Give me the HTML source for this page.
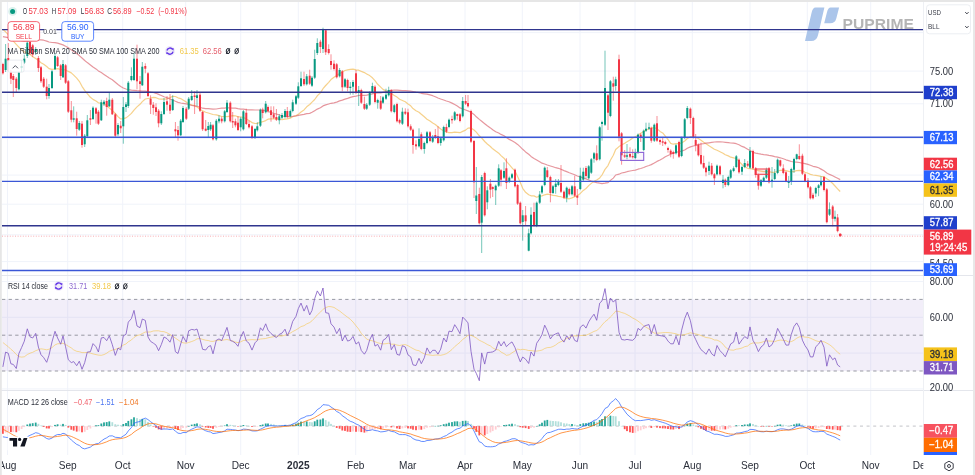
<!DOCTYPE html><html><head><meta charset="utf-8"><style>
html,body{margin:0;padding:0;background:#fff;}
body{width:975px;height:475px;overflow:hidden;position:relative;font-family:"Liberation Sans",sans-serif;}
svg{position:absolute;left:0;top:0;filter:blur(0.3px);}
</style></head><body>
<svg width="975" height="475" viewBox="0 0 975 475" font-family="Liberation Sans, sans-serif">
<rect x="0" y="0" width="975" height="475" fill="#ffffff"/>
<line x1="7.5" y1="2" x2="7.5" y2="455" stroke="#f0f3fa" stroke-width="1"/>
<line x1="67.7" y1="2" x2="67.7" y2="455" stroke="#f0f3fa" stroke-width="1"/>
<line x1="122.7" y1="2" x2="122.7" y2="455" stroke="#f0f3fa" stroke-width="1"/>
<line x1="185.7" y1="2" x2="185.7" y2="455" stroke="#f0f3fa" stroke-width="1"/>
<line x1="240.7" y1="2" x2="240.7" y2="455" stroke="#f0f3fa" stroke-width="1"/>
<line x1="298.3" y1="2" x2="298.3" y2="455" stroke="#f0f3fa" stroke-width="1"/>
<line x1="355.7" y1="2" x2="355.7" y2="455" stroke="#f0f3fa" stroke-width="1"/>
<line x1="407.7" y1="2" x2="407.7" y2="455" stroke="#f0f3fa" stroke-width="1"/>
<line x1="465.0" y1="2" x2="465.0" y2="455" stroke="#f0f3fa" stroke-width="1"/>
<line x1="522.3" y1="2" x2="522.3" y2="455" stroke="#f0f3fa" stroke-width="1"/>
<line x1="580.0" y1="2" x2="580.0" y2="455" stroke="#f0f3fa" stroke-width="1"/>
<line x1="635.0" y1="2" x2="635.0" y2="455" stroke="#f0f3fa" stroke-width="1"/>
<line x1="692.3" y1="2" x2="692.3" y2="455" stroke="#f0f3fa" stroke-width="1"/>
<line x1="750.0" y1="2" x2="750.0" y2="455" stroke="#f0f3fa" stroke-width="1"/>
<line x1="807.3" y1="2" x2="807.3" y2="455" stroke="#f0f3fa" stroke-width="1"/>
<line x1="870.7" y1="2" x2="870.7" y2="455" stroke="#f0f3fa" stroke-width="1"/>
<line x1="2" y1="32.6" x2="923" y2="32.6" stroke="#f0f3fa" stroke-width="1"/>
<line x1="2" y1="71.1" x2="923" y2="71.1" stroke="#f0f3fa" stroke-width="1"/>
<line x1="2" y1="103.8" x2="923" y2="103.8" stroke="#f0f3fa" stroke-width="1"/>
<line x1="2" y1="138.4" x2="923" y2="138.4" stroke="#f0f3fa" stroke-width="1"/>
<line x1="2" y1="175.1" x2="923" y2="175.1" stroke="#f0f3fa" stroke-width="1"/>
<line x1="2" y1="204.2" x2="923" y2="204.2" stroke="#f0f3fa" stroke-width="1"/>
<line x1="2" y1="234.8" x2="923" y2="234.8" stroke="#f0f3fa" stroke-width="1"/>
<line x1="2" y1="261.6" x2="923" y2="261.6" stroke="#f0f3fa" stroke-width="1"/>
<line x1="2" y1="281.5" x2="923" y2="281.5" stroke="#f0f3fa" stroke-width="1"/>
<line x1="2" y1="317.3" x2="923" y2="317.3" stroke="#f0f3fa" stroke-width="1"/>
<line x1="2" y1="353.1" x2="923" y2="353.1" stroke="#f0f3fa" stroke-width="1"/>
<line x1="2" y1="388.9" x2="923" y2="388.9" stroke="#f0f3fa" stroke-width="1"/>
<rect x="2" y="299.4" width="921" height="71.6" fill="#7e57c2" fill-opacity="0.1"/>
<line x1="2" y1="299.4" x2="923" y2="299.4" stroke="#787b86" stroke-width="1" stroke-dasharray="3.3 3.3" stroke-opacity="0.75"/>
<line x1="2" y1="335.2" x2="923" y2="335.2" stroke="#787b86" stroke-width="1" stroke-dasharray="3.3 3.3" stroke-opacity="0.75"/>
<line x1="2" y1="371.0" x2="923" y2="371.0" stroke="#787b86" stroke-width="1" stroke-dasharray="3.3 3.3" stroke-opacity="0.75"/>
<line x1="2" y1="426.1" x2="923" y2="426.1" stroke="#787b86" stroke-width="1" stroke-dasharray="3 3.6" stroke-opacity="0.45"/>
<line x1="0" y1="275.5" x2="975" y2="275.5" stroke="#e4e6ec" stroke-width="1"/>
<line x1="0" y1="390.5" x2="975" y2="390.5" stroke="#e4e6ec" stroke-width="1"/>
<line x1="923.5" y1="0" x2="923.5" y2="455" stroke="#eef0f4" stroke-width="1"/>
<polyline points="2.9,29.5 5.6,31.8 8.3,34.6 10.9,38.0 13.3,41.1 16.3,44.4 18.9,47.1 21.6,49.8 24.3,51.9 27.3,53.1 30.0,54.4 32.7,56.7 35.7,58.6 38.4,60.4 41.0,62.8 43.7,64.3 46.7,66.5 49.0,68.6 52.0,69.4 55.0,69.0 57.6,68.6 60.7,69.5 63.0,69.7 65.6,69.9 68.3,71.4 71.3,72.9 73.7,75.1 76.7,78.1 79.3,81.3 82.0,86.3 84.7,90.4 87.3,93.7 90.4,97.3 93.0,99.4 96.0,101.0 98.4,102.8 101.3,103.1 104.0,103.8 106.7,105.7 109.3,108.0 112.3,110.5 115.3,113.5 118.0,116.6 120.7,119.0 123.3,118.7 126.0,117.9 128.3,116.1 131.4,113.4 134.0,110.1 137.0,106.9 140.0,104.3 142.3,101.6 145.3,99.0 148.0,98.5 150.6,98.0 153.3,97.3 156.0,97.7 158.6,98.8 161.3,99.1 164.0,99.2 167.0,98.8 170.0,97.6 172.7,96.3 175.4,96.5 178.0,97.8 180.7,98.6 183.0,99.9 186.3,102.0 188.7,104.1 191.7,104.9 194.6,105.6 197.0,107.0 200.0,109.2 202.6,110.9 205.7,112.2 208.3,113.0 210.6,113.7 213.0,114.5 216.3,114.8 219.0,115.6 221.7,116.5 224.7,116.5 227.0,116.7 230.3,116.2 232.7,115.6 235.4,115.8 238.0,116.9 240.7,116.9 243.4,117.5 246.3,118.9 249.0,120.5 252.0,122.6 255.0,123.5 257.3,123.4 260.4,122.3 262.7,121.7 265.7,120.6 268.0,119.2 271.0,118.9 273.7,118.9 276.4,118.8 279.3,119.0 282.0,119.7 285.0,119.2 287.3,118.9 290.3,118.2 292.7,116.8 296.0,115.6 298.3,114.4 301.0,112.0 304.0,109.9 306.7,106.8 309.7,104.5 312.0,102.1 314.7,99.5 317.3,95.8 320.4,92.9 323.0,88.7 325.7,85.5 328.7,82.3 331.0,79.6 334.0,77.3 336.7,75.5 339.6,73.5 342.3,72.1 345.0,70.5 347.6,69.9 350.3,69.4 353.0,69.2 356.0,69.9 358.7,70.2 361.3,71.4 364.4,72.6 366.7,73.9 369.7,75.6 372.4,77.8 375.0,80.6 377.7,84.3 380.7,87.1 383.0,89.4 386.0,90.9 388.7,92.0 391.3,93.6 394.3,95.4 397.0,97.1 399.6,99.3 402.4,100.5 405.3,101.8 408.0,104.0 410.7,105.8 413.0,108.6 416.0,110.7 419.0,112.2 421.3,114.3 424.3,116.8 427.0,119.2 430.0,121.1 432.7,123.0 435.3,124.5 438.0,126.8 440.7,129.0 443.7,130.9 446.4,132.0 449.0,132.7 452.0,132.7 454.7,132.1 457.3,132.3 460.0,132.7 462.7,131.4 465.6,130.1 468.0,128.1 471.0,127.9 474.0,130.0 476.3,132.1 479.3,135.8 481.7,138.0 484.7,141.5 487.3,144.0 490.4,146.5 492.7,148.8 495.7,151.1 498.7,153.2 501.0,155.6 504.0,158.2 506.4,161.4 509.3,164.7 512.0,167.8 515.0,171.1 517.6,176.5 520.3,182.6 522.7,188.3 525.6,192.3 528.7,194.8 531.0,195.8 534.0,195.9 536.7,197.2 539.7,196.1 542.0,195.9 544.7,194.8 547.3,194.2 550.4,194.6 553.0,195.5 555.7,195.7 558.4,196.3 561.0,196.7 564.0,197.7 566.7,198.4 569.3,198.8 572.0,197.9 574.7,196.6 577.3,195.7 580.3,193.4 583.3,190.4 586.0,188.5 588.7,185.6 591.3,183.4 594.0,181.3 596.7,180.0 599.7,177.9 602.0,175.0 605.0,169.4 608.0,165.6 610.4,160.2 613.3,155.3 615.7,149.5 619.0,146.6 621.6,145.0 624.7,143.2 627.0,141.7 630.0,139.9 632.7,138.0 635.3,136.9 638.0,135.1 640.7,133.3 643.7,131.6 646.0,130.1 649.0,128.8 651.3,127.8 654.3,127.7 657.0,128.6 660.0,131.4 662.7,132.9 665.3,136.2 668.0,139.5 670.7,143.4 673.3,144.2 676.0,143.7 679.0,143.7 681.6,142.9 684.7,141.0 687.3,138.5 690.4,136.7 693.3,136.9 695.7,137.2 698.4,138.5 701.0,140.2 703.7,142.2 706.0,143.7 709.0,145.8 711.7,147.4 714.4,149.2 717.0,150.3 720.0,151.8 723.0,153.3 725.3,154.8 728.3,155.9 730.7,157.2 733.6,157.8 736.3,158.7 739.0,161.4 742.0,164.5 744.7,166.8 747.7,168.3 750.0,168.6 753.0,169.2 755.7,169.8 758.4,170.7 761.0,171.1 763.7,171.7 766.4,171.5 769.0,171.7 772.0,172.4 774.7,172.3 777.6,171.3 780.3,170.3 783.3,170.1 786.0,170.7 788.7,171.3 791.3,171.9 794.0,171.3 796.7,170.6 799.3,170.4 802.4,170.8 805.0,172.3 808.0,173.3 810.4,174.4 813.0,175.0 815.8,175.4 818.6,175.8 821.0,176.4 824.0,176.7 826.8,178.8 829.5,180.6 832.7,183.5 835.0,186.0 837.6,188.8 840.2,191.5" fill="none" stroke="#f2bd5a" stroke-width="1.2" stroke-opacity="0.7" stroke-linejoin="round"/>
<polyline points="2.9,36.7 5.6,37.2 8.3,37.7 10.9,38.5 13.3,39.0 16.3,39.6 18.9,40.0 21.6,40.7 24.3,41.1 27.3,40.9 30.0,40.9 32.7,40.4 35.7,39.8 38.4,39.6 41.0,39.8 43.7,40.2 46.7,41.1 49.0,42.0 52.0,42.5 55.0,42.7 57.6,43.2 60.7,44.1 63.0,44.9 65.6,46.2 68.3,47.8 71.3,49.7 73.7,51.5 76.7,53.6 79.3,55.6 82.0,58.0 84.7,60.5 87.3,62.6 90.4,64.9 93.0,66.9 96.0,68.9 98.4,70.9 101.3,72.6 104.0,74.4 106.7,76.3 109.3,78.0 112.3,79.7 115.3,82.2 118.0,84.5 120.7,86.5 123.3,88.0 126.0,89.0 128.3,89.6 131.4,90.2 134.0,90.3 137.0,90.7 140.0,90.9 142.3,91.1 145.3,91.2 148.0,91.6 150.6,92.1 153.3,92.5 156.0,93.3 158.6,94.4 161.3,95.5 164.0,96.8 167.0,97.8 170.0,99.0 172.7,100.0 175.4,101.3 178.0,102.4 180.7,103.0 183.0,103.3 186.3,103.9 188.7,104.5 191.7,105.3 194.6,105.9 197.0,106.3 200.0,107.3 202.6,108.2 205.7,108.6 208.3,108.7 210.6,108.9 213.0,109.1 216.3,109.0 219.0,108.5 221.7,108.2 224.7,108.1 227.0,107.7 230.3,108.0 232.7,108.2 235.4,108.2 238.0,108.7 240.7,109.1 243.4,109.2 246.3,109.6 249.0,109.9 252.0,109.9 255.0,110.0 257.3,110.0 260.4,110.0 262.7,110.2 265.7,110.6 268.0,111.4 271.0,112.5 273.7,113.3 276.4,114.0 279.3,115.0 282.0,116.0 285.0,116.3 287.3,116.6 290.3,116.6 292.7,116.4 296.0,115.9 298.3,115.3 301.0,114.8 304.0,114.4 306.7,113.7 309.7,113.4 312.0,112.3 314.7,110.7 317.3,109.1 320.4,107.8 323.0,105.9 325.7,104.9 328.7,104.0 331.0,103.3 334.0,102.8 336.7,102.1 339.6,100.9 342.3,100.1 345.0,99.1 347.6,98.4 350.3,97.4 353.0,96.6 356.0,96.1 358.7,95.5 361.3,95.3 364.4,95.4 366.7,95.1 369.7,94.5 372.4,93.8 375.0,93.2 377.7,92.9 380.7,92.8 383.0,92.3 386.0,91.7 388.7,90.7 391.3,90.4 394.3,90.0 397.0,90.2 399.6,90.4 402.4,90.6 405.3,90.6 408.0,90.8 410.7,91.1 413.0,91.5 416.0,92.1 419.0,92.6 421.3,93.3 424.3,93.8 427.0,94.2 430.0,94.9 432.7,95.7 435.3,96.7 438.0,98.0 440.7,99.0 443.7,100.0 446.4,101.0 449.0,101.8 452.0,103.1 454.7,104.5 457.3,106.0 460.0,107.9 462.7,108.9 465.6,110.0 468.0,110.9 471.0,112.3 474.0,114.4 476.3,116.8 479.3,119.4 481.7,121.3 484.7,123.7 487.3,125.8 490.4,127.9 492.7,129.8 495.7,131.7 498.7,133.0 501.0,134.4 504.0,135.7 506.4,137.5 509.3,139.4 512.0,140.8 515.0,142.5 517.6,144.4 520.3,146.9 522.7,149.3 525.6,151.9 528.7,154.2 531.0,156.4 534.0,158.4 536.7,160.0 539.7,161.7 542.0,163.2 544.7,164.0 547.3,165.0 550.4,166.0 553.0,166.8 555.7,167.7 558.4,168.3 561.0,169.3 564.0,170.6 566.7,171.6 569.3,172.7 572.0,173.7 574.7,174.8 577.3,176.0 580.3,177.0 583.3,177.8 586.0,179.0 588.7,180.0 591.3,181.0 594.0,181.8 596.7,182.6 599.7,183.2 602.0,183.6 605.0,183.2 608.0,182.6 610.4,180.4 613.3,178.1 615.7,175.0 619.0,174.2 621.6,173.0 624.7,172.4 627.0,171.7 630.0,171.0 632.7,170.5 635.3,170.1 638.0,169.2 640.7,168.5 643.7,167.5 646.0,166.5 649.0,165.5 651.3,164.6 654.3,163.0 657.0,161.4 660.0,160.0 662.7,158.5 665.3,156.8 668.0,155.5 670.7,154.2 673.3,153.3 676.0,152.3 679.0,151.7 681.6,151.1 684.7,150.0 687.3,148.3 690.4,146.9 693.3,146.0 695.7,145.3 698.4,144.6 701.0,144.0 703.7,143.6 706.0,143.2 709.0,142.8 711.7,142.4 714.4,142.0 717.0,141.9 720.0,141.9 723.0,142.0 725.3,142.3 728.3,142.7 730.7,143.0 733.6,143.2 736.3,143.7 739.0,144.7 742.0,146.4 744.7,147.4 747.7,149.2 750.0,150.5 753.0,152.4 755.7,153.1 758.4,153.7 761.0,154.2 763.7,154.6 766.4,154.9 769.0,155.4 772.0,155.9 774.7,156.7 777.6,157.1 780.3,157.8 783.3,158.7 786.0,159.8 788.7,160.6 791.3,161.5 794.0,161.9 796.7,162.1 799.3,162.5 802.4,163.1 805.0,163.7 808.0,164.4 810.4,165.2 813.0,166.3 815.8,166.9 818.6,167.8 821.0,169.1 824.0,170.8 826.8,172.9 829.5,174.4 832.7,175.8 835.0,177.0 837.6,178.3 840.2,179.6" fill="none" stroke="#dc6f79" stroke-width="1.2" stroke-opacity="0.72" stroke-linejoin="round"/>
<line x1="2.9" y1="62.8" x2="2.9" y2="74.5" stroke="#f23645" stroke-width="0.8" stroke-opacity="0.7"/>
<rect x="1.9" y="64.0" width="2" height="9.3" fill="#f23645"/>
<line x1="5.6" y1="44.0" x2="5.6" y2="72.0" stroke="#089981" stroke-width="0.8" stroke-opacity="0.7"/>
<rect x="4.6" y="58.7" width="2" height="11.3" fill="#089981"/>
<line x1="8.3" y1="43.0" x2="8.3" y2="71.0" stroke="#f23645" stroke-width="0.8" stroke-opacity="0.7"/>
<rect x="7.3" y="58.0" width="2" height="2.5" fill="#f23645"/>
<line x1="10.9" y1="70.0" x2="10.9" y2="84.0" stroke="#f23645" stroke-width="0.8" stroke-opacity="0.7"/>
<rect x="9.9" y="72.7" width="2" height="6.0" fill="#f23645"/>
<line x1="13.3" y1="74.0" x2="13.3" y2="97.0" stroke="#f23645" stroke-width="0.8" stroke-opacity="0.7"/>
<rect x="12.3" y="76.0" width="2" height="4.0" fill="#f23645"/>
<line x1="16.3" y1="77.0" x2="16.3" y2="93.0" stroke="#f23645" stroke-width="0.8" stroke-opacity="0.7"/>
<rect x="15.3" y="78.7" width="2" height="9.3" fill="#f23645"/>
<line x1="18.9" y1="71.5" x2="18.9" y2="90.5" stroke="#089981" stroke-width="0.8" stroke-opacity="0.7"/>
<rect x="17.9" y="72.7" width="2" height="16.6" fill="#089981"/>
<line x1="21.6" y1="60.0" x2="21.6" y2="72.0" stroke="#089981" stroke-width="0.8" stroke-opacity="0.7"/>
<rect x="20.6" y="66.0" width="2" height="2.0" fill="#089981"/>
<line x1="24.3" y1="54.7" x2="24.3" y2="64.0" stroke="#089981" stroke-width="0.8" stroke-opacity="0.7"/>
<rect x="23.3" y="58.7" width="2" height="4.0" fill="#089981"/>
<line x1="27.3" y1="38.0" x2="27.3" y2="58.0" stroke="#089981" stroke-width="0.8" stroke-opacity="0.7"/>
<rect x="26.3" y="42.7" width="2" height="13.3" fill="#089981"/>
<line x1="30.0" y1="40.0" x2="30.0" y2="55.0" stroke="#f23645" stroke-width="0.8" stroke-opacity="0.7"/>
<rect x="29.0" y="42.0" width="2" height="11.0" fill="#f23645"/>
<line x1="32.7" y1="44.0" x2="32.7" y2="57.0" stroke="#f23645" stroke-width="0.8" stroke-opacity="0.7"/>
<rect x="31.7" y="45.3" width="2" height="9.4" fill="#f23645"/>
<line x1="35.7" y1="47.0" x2="35.7" y2="55.0" stroke="#089981" stroke-width="0.8" stroke-opacity="0.7"/>
<rect x="34.7" y="49.0" width="2" height="3.0" fill="#089981"/>
<line x1="38.4" y1="56.0" x2="38.4" y2="72.0" stroke="#f23645" stroke-width="0.8" stroke-opacity="0.7"/>
<rect x="37.4" y="58.0" width="2" height="10.0" fill="#f23645"/>
<line x1="41.0" y1="66.0" x2="41.0" y2="83.0" stroke="#f23645" stroke-width="0.8" stroke-opacity="0.7"/>
<rect x="40.0" y="67.3" width="2" height="14.0" fill="#f23645"/>
<line x1="43.7" y1="77.0" x2="43.7" y2="88.0" stroke="#f23645" stroke-width="0.8" stroke-opacity="0.7"/>
<rect x="42.7" y="78.7" width="2" height="8.0" fill="#f23645"/>
<line x1="46.7" y1="78.7" x2="46.7" y2="99.3" stroke="#f23645" stroke-width="0.8" stroke-opacity="0.7"/>
<rect x="45.7" y="86.7" width="2" height="9.3" fill="#f23645"/>
<line x1="49.0" y1="84.0" x2="49.0" y2="98.7" stroke="#089981" stroke-width="0.8" stroke-opacity="0.7"/>
<rect x="48.0" y="88.0" width="2" height="8.0" fill="#089981"/>
<line x1="52.0" y1="70.0" x2="52.0" y2="89.0" stroke="#089981" stroke-width="0.8" stroke-opacity="0.7"/>
<rect x="51.0" y="71.3" width="2" height="16.7" fill="#089981"/>
<line x1="55.0" y1="53.3" x2="55.0" y2="70.0" stroke="#089981" stroke-width="0.8" stroke-opacity="0.7"/>
<rect x="54.0" y="56.0" width="2" height="13.3" fill="#089981"/>
<line x1="57.6" y1="56.0" x2="57.6" y2="67.0" stroke="#f23645" stroke-width="0.8" stroke-opacity="0.7"/>
<rect x="56.6" y="57.3" width="2" height="8.7" fill="#f23645"/>
<line x1="60.7" y1="64.0" x2="60.7" y2="80.0" stroke="#f23645" stroke-width="0.8" stroke-opacity="0.7"/>
<rect x="59.7" y="65.3" width="2" height="10.7" fill="#f23645"/>
<line x1="63.0" y1="60.0" x2="63.0" y2="78.0" stroke="#089981" stroke-width="0.8" stroke-opacity="0.7"/>
<rect x="62.0" y="64.0" width="2" height="13.3" fill="#089981"/>
<line x1="65.6" y1="64.0" x2="65.6" y2="84.0" stroke="#f23645" stroke-width="0.8" stroke-opacity="0.7"/>
<rect x="64.6" y="65.3" width="2" height="17.4" fill="#f23645"/>
<line x1="68.3" y1="80.0" x2="68.3" y2="113.0" stroke="#f23645" stroke-width="0.8" stroke-opacity="0.7"/>
<rect x="67.3" y="81.3" width="2" height="30.4" fill="#f23645"/>
<line x1="71.3" y1="101.0" x2="71.3" y2="122.3" stroke="#f23645" stroke-width="0.8" stroke-opacity="0.7"/>
<rect x="70.3" y="110.3" width="2" height="9.4" fill="#f23645"/>
<line x1="73.7" y1="106.3" x2="73.7" y2="122.3" stroke="#089981" stroke-width="0.8" stroke-opacity="0.7"/>
<rect x="72.7" y="118.3" width="2" height="1.4" fill="#089981"/>
<line x1="76.7" y1="111.7" x2="76.7" y2="135.7" stroke="#f23645" stroke-width="0.8" stroke-opacity="0.7"/>
<rect x="75.7" y="118.3" width="2" height="10.7" fill="#f23645"/>
<line x1="79.3" y1="121.0" x2="79.3" y2="131.0" stroke="#089981" stroke-width="0.8" stroke-opacity="0.7"/>
<rect x="78.3" y="123.0" width="2" height="6.7" fill="#089981"/>
<line x1="82.0" y1="121.0" x2="82.0" y2="147.7" stroke="#f23645" stroke-width="0.8" stroke-opacity="0.7"/>
<rect x="81.0" y="123.7" width="2" height="21.3" fill="#f23645"/>
<line x1="84.7" y1="134.0" x2="84.7" y2="147.0" stroke="#089981" stroke-width="0.8" stroke-opacity="0.7"/>
<rect x="83.7" y="135.7" width="2" height="8.6" fill="#089981"/>
<line x1="87.3" y1="115.0" x2="87.3" y2="137.0" stroke="#089981" stroke-width="0.8" stroke-opacity="0.7"/>
<rect x="86.3" y="120.3" width="2" height="16.0" fill="#089981"/>
<line x1="90.4" y1="110.0" x2="90.4" y2="125.0" stroke="#f23645" stroke-width="0.8" stroke-opacity="0.7"/>
<rect x="89.4" y="118.3" width="2" height="1.4" fill="#f23645"/>
<line x1="93.0" y1="106.3" x2="93.0" y2="120.0" stroke="#089981" stroke-width="0.8" stroke-opacity="0.7"/>
<rect x="92.0" y="107.7" width="2" height="11.3" fill="#089981"/>
<line x1="96.0" y1="107.0" x2="96.0" y2="123.7" stroke="#f23645" stroke-width="0.8" stroke-opacity="0.7"/>
<rect x="95.0" y="108.3" width="2" height="5.4" fill="#f23645"/>
<line x1="98.4" y1="110.0" x2="98.4" y2="125.0" stroke="#f23645" stroke-width="0.8" stroke-opacity="0.7"/>
<rect x="97.4" y="111.7" width="2" height="12.0" fill="#f23645"/>
<line x1="101.3" y1="99.7" x2="101.3" y2="121.0" stroke="#089981" stroke-width="0.8" stroke-opacity="0.7"/>
<rect x="100.3" y="102.3" width="2" height="18.0" fill="#089981"/>
<line x1="104.0" y1="100.0" x2="104.0" y2="106.0" stroke="#089981" stroke-width="0.8" stroke-opacity="0.7"/>
<rect x="103.0" y="101.7" width="2" height="2.6" fill="#089981"/>
<line x1="106.7" y1="97.7" x2="106.7" y2="115.7" stroke="#f23645" stroke-width="0.8" stroke-opacity="0.7"/>
<rect x="105.7" y="101.0" width="2" height="6.0" fill="#f23645"/>
<line x1="109.3" y1="93.0" x2="109.3" y2="107.0" stroke="#089981" stroke-width="0.8" stroke-opacity="0.7"/>
<rect x="108.3" y="99.7" width="2" height="6.6" fill="#089981"/>
<line x1="112.3" y1="98.0" x2="112.3" y2="115.0" stroke="#f23645" stroke-width="0.8" stroke-opacity="0.7"/>
<rect x="111.3" y="99.7" width="2" height="14.6" fill="#f23645"/>
<line x1="115.3" y1="113.0" x2="115.3" y2="137.0" stroke="#f23645" stroke-width="0.8" stroke-opacity="0.7"/>
<rect x="114.3" y="114.3" width="2" height="21.4" fill="#f23645"/>
<line x1="118.0" y1="123.0" x2="118.0" y2="136.0" stroke="#089981" stroke-width="0.8" stroke-opacity="0.7"/>
<rect x="117.0" y="125.0" width="2" height="9.3" fill="#089981"/>
<line x1="120.7" y1="121.0" x2="120.7" y2="133.0" stroke="#f23645" stroke-width="0.8" stroke-opacity="0.7"/>
<rect x="119.7" y="125.7" width="2" height="2.6" fill="#f23645"/>
<line x1="123.3" y1="97.0" x2="123.3" y2="143.7" stroke="#089981" stroke-width="0.8" stroke-opacity="0.7"/>
<rect x="122.3" y="107.0" width="2" height="19.3" fill="#089981"/>
<line x1="126.0" y1="102.0" x2="126.0" y2="112.0" stroke="#089981" stroke-width="0.8" stroke-opacity="0.7"/>
<rect x="125.0" y="104.3" width="2" height="2.7" fill="#089981"/>
<line x1="128.3" y1="81.0" x2="128.3" y2="108.0" stroke="#089981" stroke-width="0.8" stroke-opacity="0.7"/>
<rect x="127.3" y="82.7" width="2" height="23.3" fill="#089981"/>
<line x1="131.4" y1="67.3" x2="131.4" y2="81.3" stroke="#089981" stroke-width="0.8" stroke-opacity="0.7"/>
<rect x="130.4" y="76.0" width="2" height="4.0" fill="#089981"/>
<line x1="134.0" y1="53.3" x2="134.0" y2="81.0" stroke="#089981" stroke-width="0.8" stroke-opacity="0.7"/>
<rect x="133.0" y="58.7" width="2" height="21.3" fill="#089981"/>
<line x1="137.0" y1="44.7" x2="137.0" y2="89.3" stroke="#f23645" stroke-width="0.8" stroke-opacity="0.7"/>
<rect x="136.0" y="58.7" width="2" height="22.6" fill="#f23645"/>
<line x1="140.0" y1="76.0" x2="140.0" y2="98.7" stroke="#f23645" stroke-width="0.8" stroke-opacity="0.7"/>
<rect x="139.0" y="81.3" width="2" height="2.7" fill="#f23645"/>
<line x1="142.3" y1="62.0" x2="142.3" y2="86.0" stroke="#089981" stroke-width="0.8" stroke-opacity="0.7"/>
<rect x="141.3" y="66.7" width="2" height="18.6" fill="#089981"/>
<line x1="145.3" y1="63.3" x2="145.3" y2="73.3" stroke="#f23645" stroke-width="0.8" stroke-opacity="0.7"/>
<rect x="144.3" y="66.0" width="2" height="2.7" fill="#f23645"/>
<line x1="148.0" y1="72.0" x2="148.0" y2="97.0" stroke="#f23645" stroke-width="0.8" stroke-opacity="0.7"/>
<rect x="147.0" y="73.3" width="2" height="22.7" fill="#f23645"/>
<line x1="150.6" y1="95.3" x2="150.6" y2="114.0" stroke="#f23645" stroke-width="0.8" stroke-opacity="0.7"/>
<rect x="149.6" y="98.7" width="2" height="6.0" fill="#f23645"/>
<line x1="153.3" y1="102.0" x2="153.3" y2="114.7" stroke="#f23645" stroke-width="0.8" stroke-opacity="0.7"/>
<rect x="152.3" y="104.7" width="2" height="3.3" fill="#f23645"/>
<line x1="156.0" y1="103.3" x2="156.0" y2="116.0" stroke="#f23645" stroke-width="0.8" stroke-opacity="0.7"/>
<rect x="155.0" y="107.3" width="2" height="4.7" fill="#f23645"/>
<line x1="158.6" y1="109.0" x2="158.6" y2="127.3" stroke="#f23645" stroke-width="0.8" stroke-opacity="0.7"/>
<rect x="157.6" y="110.7" width="2" height="12.6" fill="#f23645"/>
<line x1="161.3" y1="111.3" x2="161.3" y2="125.0" stroke="#089981" stroke-width="0.8" stroke-opacity="0.7"/>
<rect x="160.3" y="114.0" width="2" height="9.3" fill="#089981"/>
<line x1="164.0" y1="98.0" x2="164.0" y2="115.0" stroke="#089981" stroke-width="0.8" stroke-opacity="0.7"/>
<rect x="163.0" y="102.0" width="2" height="12.0" fill="#089981"/>
<line x1="167.0" y1="96.0" x2="167.0" y2="110.7" stroke="#f23645" stroke-width="0.8" stroke-opacity="0.7"/>
<rect x="166.0" y="101.3" width="2" height="3.4" fill="#f23645"/>
<line x1="170.0" y1="94.0" x2="170.0" y2="114.0" stroke="#f23645" stroke-width="0.8" stroke-opacity="0.7"/>
<rect x="169.0" y="104.7" width="2" height="6.0" fill="#f23645"/>
<line x1="172.7" y1="95.3" x2="172.7" y2="111.0" stroke="#089981" stroke-width="0.8" stroke-opacity="0.7"/>
<rect x="171.7" y="99.3" width="2" height="10.7" fill="#089981"/>
<line x1="175.4" y1="122.0" x2="175.4" y2="138.0" stroke="#f23645" stroke-width="0.8" stroke-opacity="0.7"/>
<rect x="174.4" y="129.3" width="2" height="2.0" fill="#f23645"/>
<line x1="178.0" y1="126.0" x2="178.0" y2="140.7" stroke="#f23645" stroke-width="0.8" stroke-opacity="0.7"/>
<rect x="177.0" y="130.0" width="2" height="5.3" fill="#f23645"/>
<line x1="180.7" y1="119.0" x2="180.7" y2="136.0" stroke="#089981" stroke-width="0.8" stroke-opacity="0.7"/>
<rect x="179.7" y="120.7" width="2" height="14.6" fill="#089981"/>
<line x1="183.0" y1="106.0" x2="183.0" y2="123.0" stroke="#089981" stroke-width="0.8" stroke-opacity="0.7"/>
<rect x="182.0" y="108.0" width="2" height="14.0" fill="#089981"/>
<line x1="186.3" y1="107.0" x2="186.3" y2="120.0" stroke="#f23645" stroke-width="0.8" stroke-opacity="0.7"/>
<rect x="185.3" y="108.7" width="2" height="10.0" fill="#f23645"/>
<line x1="188.7" y1="97.0" x2="188.7" y2="110.0" stroke="#089981" stroke-width="0.8" stroke-opacity="0.7"/>
<rect x="187.7" y="98.7" width="2" height="10.0" fill="#089981"/>
<line x1="191.7" y1="90.0" x2="191.7" y2="101.0" stroke="#089981" stroke-width="0.8" stroke-opacity="0.7"/>
<rect x="190.7" y="96.0" width="2" height="4.0" fill="#089981"/>
<line x1="194.6" y1="91.3" x2="194.6" y2="114.0" stroke="#f23645" stroke-width="0.8" stroke-opacity="0.7"/>
<rect x="193.6" y="95.5" width="2" height="1.5" fill="#f23645"/>
<line x1="197.0" y1="90.0" x2="197.0" y2="106.0" stroke="#089981" stroke-width="0.8" stroke-opacity="0.7"/>
<rect x="196.0" y="95.3" width="2" height="2.7" fill="#089981"/>
<line x1="200.0" y1="93.0" x2="200.0" y2="112.0" stroke="#f23645" stroke-width="0.8" stroke-opacity="0.7"/>
<rect x="199.0" y="94.7" width="2" height="16.0" fill="#f23645"/>
<line x1="202.6" y1="111.0" x2="202.6" y2="131.0" stroke="#f23645" stroke-width="0.8" stroke-opacity="0.7"/>
<rect x="201.6" y="112.0" width="2" height="17.3" fill="#f23645"/>
<line x1="205.7" y1="120.0" x2="205.7" y2="131.3" stroke="#f23645" stroke-width="0.8" stroke-opacity="0.7"/>
<rect x="204.7" y="128.7" width="2" height="2.0" fill="#f23645"/>
<line x1="208.3" y1="122.0" x2="208.3" y2="137.3" stroke="#089981" stroke-width="0.8" stroke-opacity="0.7"/>
<rect x="207.3" y="126.0" width="2" height="4.0" fill="#089981"/>
<line x1="210.6" y1="122.0" x2="210.6" y2="131.0" stroke="#089981" stroke-width="0.8" stroke-opacity="0.7"/>
<rect x="209.6" y="124.7" width="2" height="4.6" fill="#089981"/>
<line x1="213.0" y1="124.0" x2="213.0" y2="140.5" stroke="#f23645" stroke-width="0.8" stroke-opacity="0.7"/>
<rect x="212.0" y="125.3" width="2" height="14.0" fill="#f23645"/>
<line x1="216.3" y1="119.0" x2="216.3" y2="140.7" stroke="#089981" stroke-width="0.8" stroke-opacity="0.7"/>
<rect x="215.3" y="120.7" width="2" height="18.6" fill="#089981"/>
<line x1="219.0" y1="115.3" x2="219.0" y2="123.3" stroke="#089981" stroke-width="0.8" stroke-opacity="0.7"/>
<rect x="218.0" y="118.7" width="2" height="2.6" fill="#089981"/>
<line x1="221.7" y1="116.7" x2="221.7" y2="123.3" stroke="#f23645" stroke-width="0.8" stroke-opacity="0.7"/>
<rect x="220.7" y="118.7" width="2" height="2.6" fill="#f23645"/>
<line x1="224.7" y1="110.0" x2="224.7" y2="122.5" stroke="#089981" stroke-width="0.8" stroke-opacity="0.7"/>
<rect x="223.7" y="111.3" width="2" height="10.0" fill="#089981"/>
<line x1="227.0" y1="100.0" x2="227.0" y2="113.0" stroke="#089981" stroke-width="0.8" stroke-opacity="0.7"/>
<rect x="226.0" y="102.7" width="2" height="9.3" fill="#089981"/>
<line x1="230.3" y1="101.3" x2="230.3" y2="122.5" stroke="#f23645" stroke-width="0.8" stroke-opacity="0.7"/>
<rect x="229.3" y="102.7" width="2" height="18.6" fill="#f23645"/>
<line x1="232.7" y1="112.0" x2="232.7" y2="128.0" stroke="#f23645" stroke-width="0.8" stroke-opacity="0.7"/>
<rect x="231.7" y="121.0" width="2" height="1.5" fill="#f23645"/>
<line x1="235.4" y1="118.7" x2="235.4" y2="127.3" stroke="#f23645" stroke-width="0.8" stroke-opacity="0.7"/>
<rect x="234.4" y="121.3" width="2" height="4.0" fill="#f23645"/>
<line x1="238.0" y1="116.0" x2="238.0" y2="131.0" stroke="#f23645" stroke-width="0.8" stroke-opacity="0.7"/>
<rect x="237.0" y="122.7" width="2" height="7.3" fill="#f23645"/>
<line x1="240.7" y1="117.0" x2="240.7" y2="131.3" stroke="#089981" stroke-width="0.8" stroke-opacity="0.7"/>
<rect x="239.7" y="118.7" width="2" height="8.6" fill="#089981"/>
<line x1="243.4" y1="110.0" x2="243.4" y2="130.5" stroke="#089981" stroke-width="0.8" stroke-opacity="0.7"/>
<rect x="242.4" y="111.3" width="2" height="18.0" fill="#089981"/>
<line x1="246.3" y1="108.7" x2="246.3" y2="125.0" stroke="#f23645" stroke-width="0.8" stroke-opacity="0.7"/>
<rect x="245.3" y="112.7" width="2" height="11.3" fill="#f23645"/>
<line x1="249.0" y1="120.7" x2="249.0" y2="128.5" stroke="#f23645" stroke-width="0.8" stroke-opacity="0.7"/>
<rect x="248.0" y="124.0" width="2" height="3.3" fill="#f23645"/>
<line x1="252.0" y1="125.0" x2="252.0" y2="139.0" stroke="#f23645" stroke-width="0.8" stroke-opacity="0.7"/>
<rect x="251.0" y="126.3" width="2" height="11.4" fill="#f23645"/>
<line x1="255.0" y1="128.0" x2="255.0" y2="139.0" stroke="#089981" stroke-width="0.8" stroke-opacity="0.7"/>
<rect x="254.0" y="129.0" width="2" height="8.7" fill="#089981"/>
<line x1="257.3" y1="122.3" x2="257.3" y2="131.5" stroke="#089981" stroke-width="0.8" stroke-opacity="0.7"/>
<rect x="256.3" y="126.3" width="2" height="4.0" fill="#089981"/>
<line x1="260.4" y1="108.5" x2="260.4" y2="127.0" stroke="#089981" stroke-width="0.8" stroke-opacity="0.7"/>
<rect x="259.4" y="109.7" width="2" height="16.0" fill="#089981"/>
<line x1="262.7" y1="107.7" x2="262.7" y2="118.3" stroke="#f23645" stroke-width="0.8" stroke-opacity="0.7"/>
<rect x="261.7" y="109.7" width="2" height="3.3" fill="#f23645"/>
<line x1="265.7" y1="101.0" x2="265.7" y2="113.5" stroke="#089981" stroke-width="0.8" stroke-opacity="0.7"/>
<rect x="264.7" y="103.7" width="2" height="8.6" fill="#089981"/>
<line x1="268.0" y1="105.5" x2="268.0" y2="112.5" stroke="#f23645" stroke-width="0.8" stroke-opacity="0.7"/>
<rect x="267.0" y="107.0" width="2" height="4.0" fill="#f23645"/>
<line x1="271.0" y1="106.3" x2="271.0" y2="121.7" stroke="#f23645" stroke-width="0.8" stroke-opacity="0.7"/>
<rect x="270.0" y="110.3" width="2" height="4.7" fill="#f23645"/>
<line x1="273.7" y1="106.3" x2="273.7" y2="119.0" stroke="#f23645" stroke-width="0.8" stroke-opacity="0.7"/>
<rect x="272.7" y="114.3" width="2" height="3.4" fill="#f23645"/>
<line x1="276.4" y1="109.0" x2="276.4" y2="121.0" stroke="#f23645" stroke-width="0.8" stroke-opacity="0.7"/>
<rect x="275.4" y="117.0" width="2" height="2.7" fill="#f23645"/>
<line x1="279.3" y1="114.0" x2="279.3" y2="124.3" stroke="#089981" stroke-width="0.8" stroke-opacity="0.7"/>
<rect x="278.3" y="116.3" width="2" height="4.0" fill="#089981"/>
<line x1="282.0" y1="113.0" x2="282.0" y2="119.0" stroke="#089981" stroke-width="0.8" stroke-opacity="0.7"/>
<rect x="281.0" y="115.0" width="2" height="2.7" fill="#089981"/>
<line x1="285.0" y1="109.0" x2="285.0" y2="118.3" stroke="#089981" stroke-width="0.8" stroke-opacity="0.7"/>
<rect x="284.0" y="111.0" width="2" height="6.0" fill="#089981"/>
<line x1="287.3" y1="107.0" x2="287.3" y2="118.3" stroke="#f23645" stroke-width="0.8" stroke-opacity="0.7"/>
<rect x="286.3" y="111.0" width="2" height="6.0" fill="#f23645"/>
<line x1="290.3" y1="109.5" x2="290.3" y2="117.5" stroke="#089981" stroke-width="0.8" stroke-opacity="0.7"/>
<rect x="289.3" y="111.0" width="2" height="5.3" fill="#089981"/>
<line x1="292.7" y1="99.7" x2="292.7" y2="112.3" stroke="#089981" stroke-width="0.8" stroke-opacity="0.7"/>
<rect x="291.7" y="102.3" width="2" height="8.7" fill="#089981"/>
<line x1="296.0" y1="95.0" x2="296.0" y2="105.0" stroke="#089981" stroke-width="0.8" stroke-opacity="0.7"/>
<rect x="295.0" y="96.3" width="2" height="7.4" fill="#089981"/>
<line x1="298.3" y1="82.3" x2="298.3" y2="99.0" stroke="#089981" stroke-width="0.8" stroke-opacity="0.7"/>
<rect x="297.3" y="86.3" width="2" height="11.4" fill="#089981"/>
<line x1="301.0" y1="71.7" x2="301.0" y2="87.0" stroke="#089981" stroke-width="0.8" stroke-opacity="0.7"/>
<rect x="300.0" y="78.3" width="2" height="7.7" fill="#089981"/>
<line x1="304.0" y1="71.7" x2="304.0" y2="86.0" stroke="#f23645" stroke-width="0.8" stroke-opacity="0.7"/>
<rect x="303.0" y="79.0" width="2" height="5.3" fill="#f23645"/>
<line x1="306.7" y1="74.0" x2="306.7" y2="85.5" stroke="#089981" stroke-width="0.8" stroke-opacity="0.7"/>
<rect x="305.7" y="76.3" width="2" height="8.0" fill="#089981"/>
<line x1="309.7" y1="69.7" x2="309.7" y2="85.0" stroke="#f23645" stroke-width="0.8" stroke-opacity="0.7"/>
<rect x="308.7" y="75.7" width="2" height="8.0" fill="#f23645"/>
<line x1="312.0" y1="76.0" x2="312.0" y2="87.0" stroke="#089981" stroke-width="0.8" stroke-opacity="0.7"/>
<rect x="311.0" y="77.7" width="2" height="8.0" fill="#089981"/>
<line x1="314.7" y1="49.7" x2="314.7" y2="79.0" stroke="#089981" stroke-width="0.8" stroke-opacity="0.7"/>
<rect x="313.7" y="59.0" width="2" height="18.7" fill="#089981"/>
<line x1="317.3" y1="38.3" x2="317.3" y2="55.0" stroke="#089981" stroke-width="0.8" stroke-opacity="0.7"/>
<rect x="316.3" y="43.0" width="2" height="10.0" fill="#089981"/>
<line x1="320.4" y1="39.7" x2="320.4" y2="53.0" stroke="#f23645" stroke-width="0.8" stroke-opacity="0.7"/>
<rect x="319.4" y="41.7" width="2" height="5.3" fill="#f23645"/>
<line x1="323.0" y1="27.7" x2="323.0" y2="53.0" stroke="#089981" stroke-width="0.8" stroke-opacity="0.7"/>
<rect x="322.0" y="29.0" width="2" height="20.0" fill="#089981"/>
<line x1="325.7" y1="29.0" x2="325.7" y2="55.0" stroke="#f23645" stroke-width="0.8" stroke-opacity="0.7"/>
<rect x="324.7" y="30.3" width="2" height="22.0" fill="#f23645"/>
<line x1="328.7" y1="44.3" x2="328.7" y2="54.5" stroke="#f23645" stroke-width="0.8" stroke-opacity="0.7"/>
<rect x="327.7" y="49.0" width="2" height="4.0" fill="#f23645"/>
<line x1="331.0" y1="54.3" x2="331.0" y2="69.7" stroke="#f23645" stroke-width="0.8" stroke-opacity="0.7"/>
<rect x="330.0" y="61.0" width="2" height="4.0" fill="#f23645"/>
<line x1="334.0" y1="60.3" x2="334.0" y2="70.5" stroke="#f23645" stroke-width="0.8" stroke-opacity="0.7"/>
<rect x="333.0" y="63.7" width="2" height="5.3" fill="#f23645"/>
<line x1="336.7" y1="63.0" x2="336.7" y2="78.5" stroke="#f23645" stroke-width="0.8" stroke-opacity="0.7"/>
<rect x="335.7" y="64.3" width="2" height="13.0" fill="#f23645"/>
<line x1="339.6" y1="68.0" x2="339.6" y2="77.5" stroke="#089981" stroke-width="0.8" stroke-opacity="0.7"/>
<rect x="338.6" y="70.0" width="2" height="6.3" fill="#089981"/>
<line x1="342.3" y1="70.0" x2="342.3" y2="91.3" stroke="#f23645" stroke-width="0.8" stroke-opacity="0.7"/>
<rect x="341.3" y="71.3" width="2" height="16.0" fill="#f23645"/>
<line x1="345.0" y1="78.0" x2="345.0" y2="88.0" stroke="#089981" stroke-width="0.8" stroke-opacity="0.7"/>
<rect x="344.0" y="79.3" width="2" height="7.4" fill="#089981"/>
<line x1="347.6" y1="78.7" x2="347.6" y2="91.3" stroke="#f23645" stroke-width="0.8" stroke-opacity="0.7"/>
<rect x="346.6" y="80.0" width="2" height="8.0" fill="#f23645"/>
<line x1="350.3" y1="82.0" x2="350.3" y2="94.7" stroke="#089981" stroke-width="0.8" stroke-opacity="0.7"/>
<rect x="349.3" y="86.7" width="2" height="1.3" fill="#089981"/>
<line x1="353.0" y1="80.0" x2="353.0" y2="94.7" stroke="#089981" stroke-width="0.8" stroke-opacity="0.7"/>
<rect x="352.0" y="82.0" width="2" height="4.7" fill="#089981"/>
<line x1="356.0" y1="70.0" x2="356.0" y2="94.0" stroke="#f23645" stroke-width="0.8" stroke-opacity="0.7"/>
<rect x="355.0" y="73.3" width="2" height="19.4" fill="#f23645"/>
<line x1="358.7" y1="86.0" x2="358.7" y2="106.0" stroke="#089981" stroke-width="0.8" stroke-opacity="0.7"/>
<rect x="357.7" y="90.0" width="2" height="2.7" fill="#089981"/>
<line x1="361.3" y1="88.7" x2="361.3" y2="104.0" stroke="#f23645" stroke-width="0.8" stroke-opacity="0.7"/>
<rect x="360.3" y="90.0" width="2" height="12.7" fill="#f23645"/>
<line x1="364.4" y1="96.7" x2="364.4" y2="110.0" stroke="#f23645" stroke-width="0.8" stroke-opacity="0.7"/>
<rect x="363.4" y="104.0" width="2" height="4.7" fill="#f23645"/>
<line x1="366.7" y1="103.0" x2="366.7" y2="110.0" stroke="#089981" stroke-width="0.8" stroke-opacity="0.7"/>
<rect x="365.7" y="104.7" width="2" height="4.0" fill="#089981"/>
<line x1="369.7" y1="91.3" x2="369.7" y2="106.0" stroke="#089981" stroke-width="0.8" stroke-opacity="0.7"/>
<rect x="368.7" y="92.7" width="2" height="12.0" fill="#089981"/>
<line x1="372.4" y1="82.7" x2="372.4" y2="93.3" stroke="#089981" stroke-width="0.8" stroke-opacity="0.7"/>
<rect x="371.4" y="86.0" width="2" height="6.0" fill="#089981"/>
<line x1="375.0" y1="85.3" x2="375.0" y2="103.3" stroke="#f23645" stroke-width="0.8" stroke-opacity="0.7"/>
<rect x="374.0" y="86.7" width="2" height="15.3" fill="#f23645"/>
<line x1="377.7" y1="98.7" x2="377.7" y2="108.7" stroke="#089981" stroke-width="0.8" stroke-opacity="0.7"/>
<rect x="376.7" y="100.0" width="2" height="2.7" fill="#089981"/>
<line x1="380.7" y1="96.0" x2="380.7" y2="110.0" stroke="#f23645" stroke-width="0.8" stroke-opacity="0.7"/>
<rect x="379.7" y="100.7" width="2" height="8.0" fill="#f23645"/>
<line x1="383.0" y1="96.0" x2="383.0" y2="104.0" stroke="#089981" stroke-width="0.8" stroke-opacity="0.7"/>
<rect x="382.0" y="97.3" width="2" height="5.4" fill="#089981"/>
<line x1="386.0" y1="88.7" x2="386.0" y2="100.0" stroke="#089981" stroke-width="0.8" stroke-opacity="0.7"/>
<rect x="385.0" y="94.7" width="2" height="4.0" fill="#089981"/>
<line x1="388.7" y1="86.7" x2="388.7" y2="96.5" stroke="#089981" stroke-width="0.8" stroke-opacity="0.7"/>
<rect x="387.7" y="90.0" width="2" height="5.3" fill="#089981"/>
<line x1="391.3" y1="89.3" x2="391.3" y2="112.5" stroke="#f23645" stroke-width="0.8" stroke-opacity="0.7"/>
<rect x="390.3" y="90.0" width="2" height="21.3" fill="#f23645"/>
<line x1="394.3" y1="104.0" x2="394.3" y2="113.3" stroke="#089981" stroke-width="0.8" stroke-opacity="0.7"/>
<rect x="393.3" y="105.3" width="2" height="6.7" fill="#089981"/>
<line x1="397.0" y1="102.7" x2="397.0" y2="122.5" stroke="#f23645" stroke-width="0.8" stroke-opacity="0.7"/>
<rect x="396.0" y="104.0" width="2" height="17.3" fill="#f23645"/>
<line x1="399.6" y1="118.7" x2="399.6" y2="124.3" stroke="#f23645" stroke-width="0.8" stroke-opacity="0.7"/>
<rect x="398.6" y="120.0" width="2" height="2.7" fill="#f23645"/>
<line x1="402.4" y1="107.7" x2="402.4" y2="125.0" stroke="#089981" stroke-width="0.8" stroke-opacity="0.7"/>
<rect x="401.4" y="111.7" width="2" height="12.0" fill="#089981"/>
<line x1="405.3" y1="108.3" x2="405.3" y2="115.0" stroke="#f23645" stroke-width="0.8" stroke-opacity="0.7"/>
<rect x="404.3" y="111.7" width="2" height="2.0" fill="#f23645"/>
<line x1="408.0" y1="108.7" x2="408.0" y2="127.5" stroke="#f23645" stroke-width="0.8" stroke-opacity="0.7"/>
<rect x="407.0" y="112.3" width="2" height="14.0" fill="#f23645"/>
<line x1="410.7" y1="124.3" x2="410.7" y2="131.0" stroke="#f23645" stroke-width="0.8" stroke-opacity="0.7"/>
<rect x="409.7" y="126.3" width="2" height="3.4" fill="#f23645"/>
<line x1="413.0" y1="128.5" x2="413.0" y2="153.7" stroke="#f23645" stroke-width="0.8" stroke-opacity="0.7"/>
<rect x="412.0" y="129.7" width="2" height="15.3" fill="#f23645"/>
<line x1="416.0" y1="140.3" x2="416.0" y2="149.7" stroke="#f23645" stroke-width="0.8" stroke-opacity="0.7"/>
<rect x="415.0" y="144.3" width="2" height="2.0" fill="#f23645"/>
<line x1="419.0" y1="128.3" x2="419.0" y2="147.5" stroke="#089981" stroke-width="0.8" stroke-opacity="0.7"/>
<rect x="418.0" y="139.0" width="2" height="7.3" fill="#089981"/>
<line x1="421.3" y1="132.3" x2="421.3" y2="150.2" stroke="#f23645" stroke-width="0.8" stroke-opacity="0.7"/>
<rect x="420.3" y="134.3" width="2" height="14.7" fill="#f23645"/>
<line x1="424.3" y1="141.7" x2="424.3" y2="153.7" stroke="#089981" stroke-width="0.8" stroke-opacity="0.7"/>
<rect x="423.3" y="143.0" width="2" height="6.0" fill="#089981"/>
<line x1="427.0" y1="131.0" x2="427.0" y2="144.2" stroke="#089981" stroke-width="0.8" stroke-opacity="0.7"/>
<rect x="426.0" y="132.3" width="2" height="10.7" fill="#089981"/>
<line x1="430.0" y1="131.0" x2="430.0" y2="142.2" stroke="#f23645" stroke-width="0.8" stroke-opacity="0.7"/>
<rect x="429.0" y="132.3" width="2" height="8.7" fill="#f23645"/>
<line x1="432.7" y1="135.0" x2="432.7" y2="143.0" stroke="#089981" stroke-width="0.8" stroke-opacity="0.7"/>
<rect x="431.7" y="137.7" width="2" height="4.0" fill="#089981"/>
<line x1="435.3" y1="129.0" x2="435.3" y2="139.0" stroke="#f23645" stroke-width="0.8" stroke-opacity="0.7"/>
<rect x="434.3" y="135.0" width="2" height="2.7" fill="#f23645"/>
<line x1="438.0" y1="126.3" x2="438.0" y2="144.2" stroke="#f23645" stroke-width="0.8" stroke-opacity="0.7"/>
<rect x="437.0" y="136.3" width="2" height="6.7" fill="#f23645"/>
<line x1="440.7" y1="137.0" x2="440.7" y2="145.7" stroke="#089981" stroke-width="0.8" stroke-opacity="0.7"/>
<rect x="439.7" y="138.3" width="2" height="4.7" fill="#089981"/>
<line x1="443.7" y1="125.7" x2="443.7" y2="141.5" stroke="#089981" stroke-width="0.8" stroke-opacity="0.7"/>
<rect x="442.7" y="127.0" width="2" height="13.3" fill="#089981"/>
<line x1="446.4" y1="123.7" x2="446.4" y2="133.0" stroke="#f23645" stroke-width="0.8" stroke-opacity="0.7"/>
<rect x="445.4" y="127.0" width="2" height="4.7" fill="#f23645"/>
<line x1="449.0" y1="118.5" x2="449.0" y2="128.2" stroke="#089981" stroke-width="0.8" stroke-opacity="0.7"/>
<rect x="448.0" y="119.7" width="2" height="7.3" fill="#089981"/>
<line x1="452.0" y1="115.7" x2="452.0" y2="123.7" stroke="#f23645" stroke-width="0.8" stroke-opacity="0.7"/>
<rect x="451.0" y="119.0" width="2" height="1.3" fill="#f23645"/>
<line x1="454.7" y1="111.0" x2="454.7" y2="121.0" stroke="#089981" stroke-width="0.8" stroke-opacity="0.7"/>
<rect x="453.7" y="112.3" width="2" height="7.4" fill="#089981"/>
<line x1="457.3" y1="113.7" x2="457.3" y2="119.7" stroke="#f23645" stroke-width="0.8" stroke-opacity="0.7"/>
<rect x="456.3" y="114.0" width="2" height="2.0" fill="#f23645"/>
<line x1="460.0" y1="113.0" x2="460.0" y2="122.3" stroke="#f23645" stroke-width="0.8" stroke-opacity="0.7"/>
<rect x="459.0" y="114.3" width="2" height="6.7" fill="#f23645"/>
<line x1="462.7" y1="97.0" x2="462.7" y2="117.5" stroke="#089981" stroke-width="0.8" stroke-opacity="0.7"/>
<rect x="461.7" y="101.0" width="2" height="15.3" fill="#089981"/>
<line x1="465.6" y1="95.0" x2="465.6" y2="105.0" stroke="#f23645" stroke-width="0.8" stroke-opacity="0.7"/>
<rect x="464.6" y="101.0" width="2" height="2.7" fill="#f23645"/>
<line x1="468.0" y1="95.0" x2="468.0" y2="107.5" stroke="#f23645" stroke-width="0.8" stroke-opacity="0.7"/>
<rect x="467.0" y="103.0" width="2" height="3.3" fill="#f23645"/>
<line x1="471.0" y1="109.7" x2="471.0" y2="143.0" stroke="#f23645" stroke-width="0.8" stroke-opacity="0.7"/>
<rect x="470.0" y="111.0" width="2" height="30.7" fill="#f23645"/>
<line x1="474.0" y1="140.0" x2="474.0" y2="198.0" stroke="#f23645" stroke-width="0.8" stroke-opacity="0.7"/>
<rect x="473.0" y="141.0" width="2" height="41.3" fill="#f23645"/>
<line x1="476.3" y1="167.0" x2="476.3" y2="214.0" stroke="#089981" stroke-width="0.8" stroke-opacity="0.7"/>
<rect x="475.3" y="195.5" width="2" height="5.5" fill="#089981"/>
<line x1="479.3" y1="187.7" x2="479.3" y2="224.5" stroke="#f23645" stroke-width="0.8" stroke-opacity="0.7"/>
<rect x="478.3" y="194.0" width="2" height="29.3" fill="#f23645"/>
<line x1="481.7" y1="175.0" x2="481.7" y2="253.0" stroke="#089981" stroke-width="0.8" stroke-opacity="0.7"/>
<rect x="480.7" y="177.0" width="2" height="45.7" fill="#089981"/>
<line x1="484.7" y1="171.7" x2="484.7" y2="216.5" stroke="#f23645" stroke-width="0.8" stroke-opacity="0.7"/>
<rect x="483.7" y="173.0" width="2" height="42.3" fill="#f23645"/>
<line x1="487.3" y1="186.3" x2="487.3" y2="209.3" stroke="#089981" stroke-width="0.8" stroke-opacity="0.7"/>
<rect x="486.3" y="190.3" width="2" height="12.0" fill="#089981"/>
<line x1="490.4" y1="179.0" x2="490.4" y2="198.3" stroke="#f23645" stroke-width="0.8" stroke-opacity="0.7"/>
<rect x="489.4" y="183.7" width="2" height="6.0" fill="#f23645"/>
<line x1="492.7" y1="186.3" x2="492.7" y2="197.0" stroke="#f23645" stroke-width="0.8" stroke-opacity="0.7"/>
<rect x="491.7" y="187.0" width="2" height="2.0" fill="#f23645"/>
<line x1="495.7" y1="184.5" x2="495.7" y2="205.0" stroke="#089981" stroke-width="0.8" stroke-opacity="0.7"/>
<rect x="494.7" y="185.7" width="2" height="4.6" fill="#089981"/>
<line x1="498.7" y1="164.3" x2="498.7" y2="187.0" stroke="#089981" stroke-width="0.8" stroke-opacity="0.7"/>
<rect x="497.7" y="168.3" width="2" height="17.4" fill="#089981"/>
<line x1="501.0" y1="169.0" x2="501.0" y2="186.3" stroke="#f23645" stroke-width="0.8" stroke-opacity="0.7"/>
<rect x="500.0" y="170.3" width="2" height="9.4" fill="#f23645"/>
<line x1="504.0" y1="162.3" x2="504.0" y2="179.0" stroke="#089981" stroke-width="0.8" stroke-opacity="0.7"/>
<rect x="503.0" y="171.0" width="2" height="6.7" fill="#089981"/>
<line x1="506.4" y1="158.3" x2="506.4" y2="189.0" stroke="#f23645" stroke-width="0.8" stroke-opacity="0.7"/>
<rect x="505.4" y="168.3" width="2" height="14.7" fill="#f23645"/>
<line x1="509.3" y1="176.5" x2="509.3" y2="183.0" stroke="#089981" stroke-width="0.8" stroke-opacity="0.7"/>
<rect x="508.3" y="177.7" width="2" height="4.0" fill="#089981"/>
<line x1="512.0" y1="173.0" x2="512.0" y2="179.0" stroke="#089981" stroke-width="0.8" stroke-opacity="0.7"/>
<rect x="511.0" y="174.3" width="2" height="3.4" fill="#089981"/>
<line x1="515.0" y1="168.5" x2="515.0" y2="187.5" stroke="#f23645" stroke-width="0.8" stroke-opacity="0.7"/>
<rect x="514.0" y="169.7" width="2" height="16.6" fill="#f23645"/>
<line x1="517.6" y1="184.0" x2="517.6" y2="205.0" stroke="#f23645" stroke-width="0.8" stroke-opacity="0.7"/>
<rect x="516.6" y="185.0" width="2" height="18.7" fill="#f23645"/>
<line x1="520.3" y1="201.5" x2="520.3" y2="224.5" stroke="#f23645" stroke-width="0.8" stroke-opacity="0.7"/>
<rect x="519.3" y="202.7" width="2" height="20.6" fill="#f23645"/>
<line x1="522.7" y1="210.0" x2="522.7" y2="240.7" stroke="#089981" stroke-width="0.8" stroke-opacity="0.7"/>
<rect x="521.7" y="215.3" width="2" height="6.7" fill="#089981"/>
<line x1="525.6" y1="206.0" x2="525.6" y2="226.0" stroke="#f23645" stroke-width="0.8" stroke-opacity="0.7"/>
<rect x="524.6" y="215.3" width="2" height="6.0" fill="#f23645"/>
<line x1="528.7" y1="228.7" x2="528.7" y2="251.3" stroke="#089981" stroke-width="0.8" stroke-opacity="0.7"/>
<rect x="527.7" y="233.3" width="2" height="17.4" fill="#089981"/>
<line x1="531.0" y1="207.3" x2="531.0" y2="234.5" stroke="#089981" stroke-width="0.8" stroke-opacity="0.7"/>
<rect x="530.0" y="214.7" width="2" height="18.6" fill="#089981"/>
<line x1="534.0" y1="202.7" x2="534.0" y2="226.5" stroke="#f23645" stroke-width="0.8" stroke-opacity="0.7"/>
<rect x="533.0" y="212.0" width="2" height="13.3" fill="#f23645"/>
<line x1="536.7" y1="201.5" x2="536.7" y2="227.2" stroke="#089981" stroke-width="0.8" stroke-opacity="0.7"/>
<rect x="535.7" y="202.7" width="2" height="23.3" fill="#089981"/>
<line x1="539.7" y1="191.0" x2="539.7" y2="204.0" stroke="#089981" stroke-width="0.8" stroke-opacity="0.7"/>
<rect x="538.7" y="194.5" width="2" height="8.2" fill="#089981"/>
<line x1="542.0" y1="185.0" x2="542.0" y2="194.0" stroke="#089981" stroke-width="0.8" stroke-opacity="0.7"/>
<rect x="541.0" y="186.3" width="2" height="6.2" fill="#089981"/>
<line x1="544.7" y1="166.5" x2="544.7" y2="186.2" stroke="#089981" stroke-width="0.8" stroke-opacity="0.7"/>
<rect x="543.7" y="167.7" width="2" height="17.3" fill="#089981"/>
<line x1="547.3" y1="167.0" x2="547.3" y2="178.2" stroke="#f23645" stroke-width="0.8" stroke-opacity="0.7"/>
<rect x="546.3" y="170.3" width="2" height="6.7" fill="#f23645"/>
<line x1="550.4" y1="175.7" x2="550.4" y2="202.3" stroke="#f23645" stroke-width="0.8" stroke-opacity="0.7"/>
<rect x="549.4" y="177.0" width="2" height="16.0" fill="#f23645"/>
<line x1="553.0" y1="185.0" x2="553.0" y2="194.2" stroke="#089981" stroke-width="0.8" stroke-opacity="0.7"/>
<rect x="552.0" y="186.3" width="2" height="6.7" fill="#089981"/>
<line x1="555.7" y1="179.0" x2="555.7" y2="193.7" stroke="#089981" stroke-width="0.8" stroke-opacity="0.7"/>
<rect x="554.7" y="183.7" width="2" height="3.3" fill="#089981"/>
<line x1="558.4" y1="179.0" x2="558.4" y2="186.2" stroke="#089981" stroke-width="0.8" stroke-opacity="0.7"/>
<rect x="557.4" y="181.7" width="2" height="3.3" fill="#089981"/>
<line x1="561.0" y1="165.0" x2="561.0" y2="193.0" stroke="#f23645" stroke-width="0.8" stroke-opacity="0.7"/>
<rect x="560.0" y="183.0" width="2" height="8.7" fill="#f23645"/>
<line x1="564.0" y1="190.5" x2="564.0" y2="199.0" stroke="#f23645" stroke-width="0.8" stroke-opacity="0.7"/>
<rect x="563.0" y="191.7" width="2" height="6.0" fill="#f23645"/>
<line x1="566.7" y1="186.5" x2="566.7" y2="202.3" stroke="#089981" stroke-width="0.8" stroke-opacity="0.7"/>
<rect x="565.7" y="187.7" width="2" height="10.0" fill="#089981"/>
<line x1="569.3" y1="187.7" x2="569.3" y2="195.5" stroke="#f23645" stroke-width="0.8" stroke-opacity="0.7"/>
<rect x="568.3" y="189.0" width="2" height="5.3" fill="#f23645"/>
<line x1="572.0" y1="185.0" x2="572.0" y2="195.5" stroke="#089981" stroke-width="0.8" stroke-opacity="0.7"/>
<rect x="571.0" y="186.3" width="2" height="8.0" fill="#089981"/>
<line x1="574.7" y1="175.7" x2="574.7" y2="197.0" stroke="#f23645" stroke-width="0.8" stroke-opacity="0.7"/>
<rect x="573.7" y="186.3" width="2" height="9.4" fill="#f23645"/>
<line x1="577.3" y1="189.0" x2="577.3" y2="205.0" stroke="#f23645" stroke-width="0.8" stroke-opacity="0.7"/>
<rect x="576.3" y="195.7" width="2" height="2.0" fill="#f23645"/>
<line x1="580.3" y1="167.7" x2="580.3" y2="190.2" stroke="#089981" stroke-width="0.8" stroke-opacity="0.7"/>
<rect x="579.3" y="175.7" width="2" height="13.3" fill="#089981"/>
<line x1="583.3" y1="167.7" x2="583.3" y2="181.0" stroke="#089981" stroke-width="0.8" stroke-opacity="0.7"/>
<rect x="582.3" y="171.7" width="2" height="8.0" fill="#089981"/>
<line x1="586.0" y1="166.0" x2="586.0" y2="179.0" stroke="#f23645" stroke-width="0.8" stroke-opacity="0.7"/>
<rect x="585.0" y="168.0" width="2" height="8.0" fill="#f23645"/>
<line x1="588.7" y1="165.0" x2="588.7" y2="179.5" stroke="#089981" stroke-width="0.8" stroke-opacity="0.7"/>
<rect x="587.7" y="166.3" width="2" height="12.0" fill="#089981"/>
<line x1="591.3" y1="158.0" x2="591.3" y2="174.0" stroke="#089981" stroke-width="0.8" stroke-opacity="0.7"/>
<rect x="590.3" y="159.3" width="2" height="13.4" fill="#089981"/>
<line x1="594.0" y1="152.0" x2="594.0" y2="162.7" stroke="#089981" stroke-width="0.8" stroke-opacity="0.7"/>
<rect x="593.0" y="153.3" width="2" height="5.4" fill="#089981"/>
<line x1="596.7" y1="145.3" x2="596.7" y2="161.2" stroke="#f23645" stroke-width="0.8" stroke-opacity="0.7"/>
<rect x="595.7" y="153.3" width="2" height="6.7" fill="#f23645"/>
<line x1="599.7" y1="126.0" x2="599.7" y2="160.5" stroke="#089981" stroke-width="0.8" stroke-opacity="0.7"/>
<rect x="598.7" y="127.3" width="2" height="32.0" fill="#089981"/>
<line x1="602.0" y1="120.7" x2="602.0" y2="140.7" stroke="#089981" stroke-width="0.8" stroke-opacity="0.7"/>
<rect x="601.0" y="122.0" width="2" height="2.0" fill="#089981"/>
<line x1="605.0" y1="50.7" x2="605.0" y2="126.0" stroke="#089981" stroke-width="0.8" stroke-opacity="0.7"/>
<rect x="604.0" y="88.0" width="2" height="36.7" fill="#089981"/>
<line x1="608.0" y1="94.0" x2="608.0" y2="130.0" stroke="#f23645" stroke-width="0.8" stroke-opacity="0.7"/>
<rect x="607.0" y="95.3" width="2" height="17.4" fill="#f23645"/>
<line x1="610.4" y1="80.0" x2="610.4" y2="117.2" stroke="#089981" stroke-width="0.8" stroke-opacity="0.7"/>
<rect x="609.4" y="81.3" width="2" height="34.7" fill="#089981"/>
<line x1="613.3" y1="76.7" x2="613.3" y2="100.7" stroke="#f23645" stroke-width="0.8" stroke-opacity="0.7"/>
<rect x="612.3" y="83.3" width="2" height="3.4" fill="#f23645"/>
<line x1="615.7" y1="76.7" x2="615.7" y2="90.7" stroke="#089981" stroke-width="0.8" stroke-opacity="0.7"/>
<rect x="614.7" y="79.3" width="2" height="6.7" fill="#089981"/>
<line x1="619.0" y1="54.7" x2="619.0" y2="141.3" stroke="#f23645" stroke-width="0.8" stroke-opacity="0.7"/>
<rect x="618.0" y="59.3" width="2" height="77.4" fill="#f23645"/>
<line x1="621.6" y1="132.0" x2="621.6" y2="164.7" stroke="#f23645" stroke-width="0.8" stroke-opacity="0.7"/>
<rect x="620.6" y="133.3" width="2" height="22.0" fill="#f23645"/>
<line x1="624.7" y1="150.0" x2="624.7" y2="158.0" stroke="#f23645" stroke-width="0.8" stroke-opacity="0.7"/>
<rect x="623.7" y="155.3" width="2" height="1.4" fill="#f23645"/>
<line x1="627.0" y1="144.0" x2="627.0" y2="159.3" stroke="#089981" stroke-width="0.8" stroke-opacity="0.7"/>
<rect x="626.0" y="155.3" width="2" height="1.4" fill="#089981"/>
<line x1="630.0" y1="147.3" x2="630.0" y2="158.0" stroke="#f23645" stroke-width="0.8" stroke-opacity="0.7"/>
<rect x="629.0" y="154.0" width="2" height="2.7" fill="#f23645"/>
<line x1="632.7" y1="149.3" x2="632.7" y2="158.5" stroke="#f23645" stroke-width="0.8" stroke-opacity="0.7"/>
<rect x="631.7" y="156.0" width="2" height="1.3" fill="#f23645"/>
<line x1="635.3" y1="148.7" x2="635.3" y2="159.3" stroke="#089981" stroke-width="0.8" stroke-opacity="0.7"/>
<rect x="634.3" y="152.7" width="2" height="5.3" fill="#089981"/>
<line x1="638.0" y1="133.5" x2="638.0" y2="154.0" stroke="#089981" stroke-width="0.8" stroke-opacity="0.7"/>
<rect x="637.0" y="134.7" width="2" height="18.0" fill="#089981"/>
<line x1="640.7" y1="133.3" x2="640.7" y2="142.0" stroke="#f23645" stroke-width="0.8" stroke-opacity="0.7"/>
<rect x="639.7" y="134.7" width="2" height="3.3" fill="#f23645"/>
<line x1="643.7" y1="129.5" x2="643.7" y2="151.2" stroke="#089981" stroke-width="0.8" stroke-opacity="0.7"/>
<rect x="642.7" y="130.7" width="2" height="19.3" fill="#089981"/>
<line x1="646.0" y1="122.7" x2="646.0" y2="132.0" stroke="#089981" stroke-width="0.8" stroke-opacity="0.7"/>
<rect x="645.0" y="128.7" width="2" height="2.0" fill="#089981"/>
<line x1="649.0" y1="122.7" x2="649.0" y2="130.0" stroke="#089981" stroke-width="0.8" stroke-opacity="0.7"/>
<rect x="648.0" y="127.3" width="2" height="1.4" fill="#089981"/>
<line x1="651.3" y1="126.7" x2="651.3" y2="142.7" stroke="#f23645" stroke-width="0.8" stroke-opacity="0.7"/>
<rect x="650.3" y="128.0" width="2" height="12.7" fill="#f23645"/>
<line x1="654.3" y1="123.5" x2="654.3" y2="142.0" stroke="#089981" stroke-width="0.8" stroke-opacity="0.7"/>
<rect x="653.3" y="124.7" width="2" height="16.0" fill="#089981"/>
<line x1="657.0" y1="116.0" x2="657.0" y2="142.0" stroke="#f23645" stroke-width="0.8" stroke-opacity="0.7"/>
<rect x="656.0" y="123.3" width="2" height="17.4" fill="#f23645"/>
<line x1="660.0" y1="138.7" x2="660.0" y2="144.7" stroke="#f23645" stroke-width="0.8" stroke-opacity="0.7"/>
<rect x="659.0" y="140.0" width="2" height="2.0" fill="#f23645"/>
<line x1="662.7" y1="138.0" x2="662.7" y2="146.0" stroke="#f23645" stroke-width="0.8" stroke-opacity="0.7"/>
<rect x="661.7" y="141.3" width="2" height="1.4" fill="#f23645"/>
<line x1="665.3" y1="140.7" x2="665.3" y2="145.3" stroke="#f23645" stroke-width="0.8" stroke-opacity="0.7"/>
<rect x="664.3" y="142.0" width="2" height="2.0" fill="#f23645"/>
<line x1="668.0" y1="146.7" x2="668.0" y2="152.7" stroke="#f23645" stroke-width="0.8" stroke-opacity="0.7"/>
<rect x="667.0" y="148.0" width="2" height="2.0" fill="#f23645"/>
<line x1="670.7" y1="149.3" x2="670.7" y2="157.3" stroke="#f23645" stroke-width="0.8" stroke-opacity="0.7"/>
<rect x="669.7" y="150.7" width="2" height="3.3" fill="#f23645"/>
<line x1="673.3" y1="150.7" x2="673.3" y2="158.7" stroke="#f23645" stroke-width="0.8" stroke-opacity="0.7"/>
<rect x="672.3" y="152.0" width="2" height="2.0" fill="#f23645"/>
<line x1="676.0" y1="144.0" x2="676.0" y2="154.5" stroke="#089981" stroke-width="0.8" stroke-opacity="0.7"/>
<rect x="675.0" y="145.3" width="2" height="8.0" fill="#089981"/>
<line x1="679.0" y1="140.7" x2="679.0" y2="158.0" stroke="#f23645" stroke-width="0.8" stroke-opacity="0.7"/>
<rect x="678.0" y="142.0" width="2" height="14.7" fill="#f23645"/>
<line x1="681.6" y1="136.7" x2="681.6" y2="157.2" stroke="#089981" stroke-width="0.8" stroke-opacity="0.7"/>
<rect x="680.6" y="138.0" width="2" height="18.0" fill="#089981"/>
<line x1="684.7" y1="118.0" x2="684.7" y2="139.2" stroke="#089981" stroke-width="0.8" stroke-opacity="0.7"/>
<rect x="683.7" y="119.3" width="2" height="18.7" fill="#089981"/>
<line x1="687.3" y1="106.0" x2="687.3" y2="119.2" stroke="#089981" stroke-width="0.8" stroke-opacity="0.7"/>
<rect x="686.3" y="108.0" width="2" height="10.0" fill="#089981"/>
<line x1="690.4" y1="107.5" x2="690.4" y2="124.0" stroke="#f23645" stroke-width="0.8" stroke-opacity="0.7"/>
<rect x="689.4" y="108.7" width="2" height="9.3" fill="#f23645"/>
<line x1="693.3" y1="116.7" x2="693.3" y2="138.5" stroke="#f23645" stroke-width="0.8" stroke-opacity="0.7"/>
<rect x="692.3" y="118.0" width="2" height="19.3" fill="#f23645"/>
<line x1="695.7" y1="134.0" x2="695.7" y2="151.3" stroke="#f23645" stroke-width="0.8" stroke-opacity="0.7"/>
<rect x="694.7" y="140.0" width="2" height="5.3" fill="#f23645"/>
<line x1="698.4" y1="143.5" x2="698.4" y2="156.5" stroke="#f23645" stroke-width="0.8" stroke-opacity="0.7"/>
<rect x="697.4" y="144.7" width="2" height="10.6" fill="#f23645"/>
<line x1="701.0" y1="142.7" x2="701.0" y2="164.9" stroke="#f23645" stroke-width="0.8" stroke-opacity="0.7"/>
<rect x="700.0" y="155.0" width="2" height="8.7" fill="#f23645"/>
<line x1="703.7" y1="155.7" x2="703.7" y2="169.0" stroke="#f23645" stroke-width="0.8" stroke-opacity="0.7"/>
<rect x="702.7" y="163.0" width="2" height="4.7" fill="#f23645"/>
<line x1="706.0" y1="166.5" x2="706.0" y2="176.3" stroke="#f23645" stroke-width="0.8" stroke-opacity="0.7"/>
<rect x="705.0" y="167.7" width="2" height="4.6" fill="#f23645"/>
<line x1="709.0" y1="161.7" x2="709.0" y2="175.0" stroke="#089981" stroke-width="0.8" stroke-opacity="0.7"/>
<rect x="708.0" y="165.7" width="2" height="5.3" fill="#089981"/>
<line x1="711.7" y1="163.0" x2="711.7" y2="175.5" stroke="#f23645" stroke-width="0.8" stroke-opacity="0.7"/>
<rect x="710.7" y="165.7" width="2" height="8.6" fill="#f23645"/>
<line x1="714.4" y1="173.0" x2="714.4" y2="185.0" stroke="#f23645" stroke-width="0.8" stroke-opacity="0.7"/>
<rect x="713.4" y="174.3" width="2" height="4.0" fill="#f23645"/>
<line x1="717.0" y1="164.5" x2="717.0" y2="175.5" stroke="#089981" stroke-width="0.8" stroke-opacity="0.7"/>
<rect x="716.0" y="165.7" width="2" height="8.6" fill="#089981"/>
<line x1="720.0" y1="165.0" x2="720.0" y2="175.5" stroke="#f23645" stroke-width="0.8" stroke-opacity="0.7"/>
<rect x="719.0" y="166.3" width="2" height="8.0" fill="#f23645"/>
<line x1="723.0" y1="175.0" x2="723.0" y2="188.3" stroke="#089981" stroke-width="0.8" stroke-opacity="0.7"/>
<rect x="722.0" y="179.7" width="2" height="3.3" fill="#089981"/>
<line x1="725.3" y1="178.5" x2="725.3" y2="187.0" stroke="#f23645" stroke-width="0.8" stroke-opacity="0.7"/>
<rect x="724.3" y="179.7" width="2" height="5.3" fill="#f23645"/>
<line x1="728.3" y1="175.7" x2="728.3" y2="186.2" stroke="#089981" stroke-width="0.8" stroke-opacity="0.7"/>
<rect x="727.3" y="177.0" width="2" height="8.0" fill="#089981"/>
<line x1="730.7" y1="169.0" x2="730.7" y2="179.0" stroke="#089981" stroke-width="0.8" stroke-opacity="0.7"/>
<rect x="729.7" y="170.3" width="2" height="7.4" fill="#089981"/>
<line x1="733.6" y1="166.3" x2="733.6" y2="172.2" stroke="#089981" stroke-width="0.8" stroke-opacity="0.7"/>
<rect x="732.6" y="168.3" width="2" height="2.7" fill="#089981"/>
<line x1="736.3" y1="155.0" x2="736.3" y2="168.2" stroke="#089981" stroke-width="0.8" stroke-opacity="0.7"/>
<rect x="735.3" y="156.3" width="2" height="10.7" fill="#089981"/>
<line x1="739.0" y1="158.5" x2="739.0" y2="173.7" stroke="#f23645" stroke-width="0.8" stroke-opacity="0.7"/>
<rect x="738.0" y="159.7" width="2" height="12.6" fill="#f23645"/>
<line x1="742.0" y1="165.7" x2="742.0" y2="175.0" stroke="#089981" stroke-width="0.8" stroke-opacity="0.7"/>
<rect x="741.0" y="167.0" width="2" height="4.7" fill="#089981"/>
<line x1="744.7" y1="159.0" x2="744.7" y2="168.2" stroke="#089981" stroke-width="0.8" stroke-opacity="0.7"/>
<rect x="743.7" y="163.0" width="2" height="4.0" fill="#089981"/>
<line x1="747.7" y1="161.0" x2="747.7" y2="167.0" stroke="#f23645" stroke-width="0.8" stroke-opacity="0.7"/>
<rect x="746.7" y="163.7" width="2" height="2.0" fill="#f23645"/>
<line x1="750.0" y1="147.0" x2="750.0" y2="169.0" stroke="#089981" stroke-width="0.8" stroke-opacity="0.7"/>
<rect x="749.0" y="151.0" width="2" height="16.7" fill="#089981"/>
<line x1="753.0" y1="149.7" x2="753.0" y2="169.5" stroke="#f23645" stroke-width="0.8" stroke-opacity="0.7"/>
<rect x="752.0" y="151.0" width="2" height="17.3" fill="#f23645"/>
<line x1="755.7" y1="167.0" x2="755.7" y2="177.7" stroke="#f23645" stroke-width="0.8" stroke-opacity="0.7"/>
<rect x="754.7" y="168.3" width="2" height="6.7" fill="#f23645"/>
<line x1="758.4" y1="173.7" x2="758.4" y2="189.7" stroke="#f23645" stroke-width="0.8" stroke-opacity="0.7"/>
<rect x="757.4" y="175.0" width="2" height="10.7" fill="#f23645"/>
<line x1="761.0" y1="179.0" x2="761.0" y2="187.0" stroke="#089981" stroke-width="0.8" stroke-opacity="0.7"/>
<rect x="760.0" y="180.3" width="2" height="5.4" fill="#089981"/>
<line x1="763.7" y1="176.5" x2="763.7" y2="182.2" stroke="#089981" stroke-width="0.8" stroke-opacity="0.7"/>
<rect x="762.7" y="177.7" width="2" height="3.3" fill="#089981"/>
<line x1="766.4" y1="167.7" x2="766.4" y2="179.0" stroke="#089981" stroke-width="0.8" stroke-opacity="0.7"/>
<rect x="765.4" y="169.7" width="2" height="8.0" fill="#089981"/>
<line x1="769.0" y1="167.0" x2="769.0" y2="183.5" stroke="#f23645" stroke-width="0.8" stroke-opacity="0.7"/>
<rect x="768.0" y="168.3" width="2" height="14.0" fill="#f23645"/>
<line x1="772.0" y1="167.0" x2="772.0" y2="187.7" stroke="#089981" stroke-width="0.8" stroke-opacity="0.7"/>
<rect x="771.0" y="179.7" width="2" height="2.0" fill="#089981"/>
<line x1="774.7" y1="169.0" x2="774.7" y2="180.2" stroke="#089981" stroke-width="0.8" stroke-opacity="0.7"/>
<rect x="773.7" y="173.0" width="2" height="6.0" fill="#089981"/>
<line x1="777.6" y1="158.5" x2="777.6" y2="174.2" stroke="#089981" stroke-width="0.8" stroke-opacity="0.7"/>
<rect x="776.6" y="159.7" width="2" height="13.3" fill="#089981"/>
<line x1="780.3" y1="159.7" x2="780.3" y2="167.0" stroke="#f23645" stroke-width="0.8" stroke-opacity="0.7"/>
<rect x="779.3" y="160.3" width="2" height="5.4" fill="#f23645"/>
<line x1="783.3" y1="164.3" x2="783.3" y2="174.2" stroke="#f23645" stroke-width="0.8" stroke-opacity="0.7"/>
<rect x="782.3" y="168.3" width="2" height="4.7" fill="#f23645"/>
<line x1="786.0" y1="171.0" x2="786.0" y2="182.2" stroke="#f23645" stroke-width="0.8" stroke-opacity="0.7"/>
<rect x="785.0" y="172.3" width="2" height="8.7" fill="#f23645"/>
<line x1="788.7" y1="176.0" x2="788.7" y2="188.0" stroke="#089981" stroke-width="0.8" stroke-opacity="0.7"/>
<rect x="787.7" y="181.0" width="2" height="2.0" fill="#089981"/>
<line x1="791.3" y1="167.7" x2="791.3" y2="185.0" stroke="#089981" stroke-width="0.8" stroke-opacity="0.7"/>
<rect x="790.3" y="169.0" width="2" height="12.0" fill="#089981"/>
<line x1="794.0" y1="157.7" x2="794.0" y2="173.0" stroke="#089981" stroke-width="0.8" stroke-opacity="0.7"/>
<rect x="793.0" y="159.0" width="2" height="10.7" fill="#089981"/>
<line x1="796.7" y1="153.7" x2="796.7" y2="160.2" stroke="#089981" stroke-width="0.8" stroke-opacity="0.7"/>
<rect x="795.7" y="154.3" width="2" height="4.7" fill="#089981"/>
<line x1="799.3" y1="144.3" x2="799.3" y2="160.0" stroke="#f23645" stroke-width="0.8" stroke-opacity="0.7"/>
<rect x="798.3" y="156.0" width="2" height="3.0" fill="#f23645"/>
<line x1="802.4" y1="153.7" x2="802.4" y2="175.0" stroke="#f23645" stroke-width="0.8" stroke-opacity="0.7"/>
<rect x="801.4" y="155.7" width="2" height="18.0" fill="#f23645"/>
<line x1="805.0" y1="173.0" x2="805.0" y2="182.2" stroke="#f23645" stroke-width="0.8" stroke-opacity="0.7"/>
<rect x="804.0" y="174.3" width="2" height="6.7" fill="#f23645"/>
<line x1="808.0" y1="178.0" x2="808.0" y2="188.5" stroke="#f23645" stroke-width="0.8" stroke-opacity="0.7"/>
<rect x="807.0" y="180.5" width="2" height="6.8" fill="#f23645"/>
<line x1="810.4" y1="186.0" x2="810.4" y2="199.5" stroke="#f23645" stroke-width="0.8" stroke-opacity="0.7"/>
<rect x="809.4" y="187.3" width="2" height="11.0" fill="#f23645"/>
<line x1="813.0" y1="192.8" x2="813.0" y2="199.5" stroke="#f23645" stroke-width="0.8" stroke-opacity="0.7"/>
<rect x="812.0" y="194.8" width="2" height="3.5" fill="#f23645"/>
<line x1="815.8" y1="186.8" x2="815.8" y2="197.0" stroke="#089981" stroke-width="0.8" stroke-opacity="0.7"/>
<rect x="814.8" y="188.0" width="2" height="5.5" fill="#089981"/>
<line x1="818.6" y1="184.0" x2="818.6" y2="196.2" stroke="#089981" stroke-width="0.8" stroke-opacity="0.7"/>
<rect x="817.6" y="185.3" width="2" height="2.7" fill="#089981"/>
<line x1="821.0" y1="176.3" x2="821.0" y2="186.5" stroke="#089981" stroke-width="0.8" stroke-opacity="0.7"/>
<rect x="820.0" y="181.2" width="2" height="4.1" fill="#089981"/>
<line x1="824.0" y1="176.0" x2="824.0" y2="191.4" stroke="#f23645" stroke-width="0.8" stroke-opacity="0.7"/>
<rect x="823.0" y="177.0" width="2" height="13.0" fill="#f23645"/>
<line x1="826.8" y1="188.0" x2="826.8" y2="223.4" stroke="#f23645" stroke-width="0.8" stroke-opacity="0.7"/>
<rect x="825.8" y="189.4" width="2" height="32.8" fill="#f23645"/>
<line x1="829.5" y1="202.4" x2="829.5" y2="216.0" stroke="#089981" stroke-width="0.8" stroke-opacity="0.7"/>
<rect x="828.5" y="209.2" width="2" height="5.5" fill="#089981"/>
<line x1="832.7" y1="205.0" x2="832.7" y2="226.3" stroke="#f23645" stroke-width="0.8" stroke-opacity="0.7"/>
<rect x="831.7" y="206.5" width="2" height="12.3" fill="#f23645"/>
<line x1="835.0" y1="210.6" x2="835.0" y2="221.5" stroke="#089981" stroke-width="0.8" stroke-opacity="0.7"/>
<rect x="834.0" y="216.7" width="2" height="2.1" fill="#089981"/>
<line x1="837.6" y1="214.0" x2="837.6" y2="232.3" stroke="#f23645" stroke-width="0.8" stroke-opacity="0.7"/>
<rect x="836.6" y="217.4" width="2" height="13.7" fill="#f23645"/>
<line x1="840.2" y1="233.6" x2="840.2" y2="236.8" stroke="#f23645" stroke-width="0.8" stroke-opacity="0.7"/>
<rect x="839.2" y="234.0" width="2" height="1.5" fill="#f23645"/>
<polyline points="2.9,342.5 5.6,344.7 8.3,346.7 10.9,349.3 13.3,351.2 16.3,354.5 18.9,356.7 21.6,357.1 24.3,356.8 27.3,354.5 30.0,353.2 32.7,352.3 35.7,350.7 38.4,349.7 41.0,348.8 43.7,349.2 46.7,349.8 49.0,349.2 52.0,347.6 55.0,344.9 57.6,343.8 60.7,343.6 63.0,343.2 65.6,344.5 68.3,346.2 71.3,347.9 73.7,349.9 76.7,351.3 79.3,351.7 82.0,352.6 84.7,352.6 87.3,352.4 90.4,353.1 93.0,353.9 96.0,354.6 98.4,355.1 101.3,355.3 104.0,354.6 106.7,353.2 109.3,351.3 112.3,350.1 115.3,349.4 118.0,348.4 120.7,347.1 123.3,345.1 126.0,343.9 128.3,341.8 131.4,340.0 134.0,337.4 137.0,335.5 140.0,334.8 142.3,333.5 145.3,332.0 148.0,332.1 150.6,331.9 153.3,331.0 156.0,330.8 158.6,330.8 161.3,331.5 164.0,331.7 167.0,332.8 170.0,334.5 172.7,336.2 175.4,338.1 178.0,339.9 180.7,341.7 183.0,342.8 186.3,343.2 188.7,342.5 191.7,341.5 194.6,340.4 197.0,338.9 200.0,338.5 202.6,339.4 205.7,340.2 208.3,340.5 210.6,341.3 213.0,341.4 216.3,340.5 219.0,340.1 221.7,340.4 224.7,339.8 227.0,339.5 230.3,340.3 232.7,341.1 235.4,342.1 238.0,342.6 240.7,341.8 243.4,340.5 246.3,340.1 249.0,339.9 252.0,339.6 255.0,339.8 257.3,339.9 260.4,339.0 262.7,338.8 265.7,338.5 268.0,337.8 271.0,337.2 273.7,336.7 276.4,336.1 279.3,335.9 282.0,336.0 285.0,335.1 287.3,334.6 290.3,333.1 292.7,331.6 296.0,329.9 298.3,328.5 301.0,326.6 304.0,325.7 306.7,323.9 309.7,322.6 312.0,320.8 314.7,318.0 317.3,314.9 320.4,312.2 323.0,309.3 325.7,307.6 328.7,306.5 331.0,306.7 334.0,307.4 336.7,309.2 339.6,311.0 342.3,313.2 345.0,315.3 347.6,317.2 350.3,319.3 353.0,322.0 356.0,325.8 358.7,329.1 361.3,333.5 364.4,336.5 366.7,339.1 369.7,340.3 372.4,340.8 375.0,341.7 377.7,342.8 380.7,343.5 383.0,343.9 386.0,343.7 388.7,343.2 391.3,344.2 394.3,344.2 397.0,345.1 399.6,345.5 402.4,344.9 405.3,344.6 408.0,345.7 410.7,347.3 413.0,348.6 416.0,350.1 419.0,350.7 421.3,352.4 424.3,353.8 427.0,354.7 430.0,355.0 432.7,355.4 435.3,355.1 438.0,355.0 440.7,355.3 443.7,354.6 446.4,353.7 449.0,351.9 452.0,349.5 454.7,346.6 457.3,344.5 460.0,342.3 462.7,339.4 465.6,337.4 468.0,335.2 471.0,335.3 474.0,336.7 476.3,338.0 479.3,340.3 481.7,341.4 484.7,342.9 487.3,344.5 490.4,345.9 492.7,347.9 495.7,349.4 498.7,350.0 501.0,352.0 504.0,353.6 506.4,355.3 509.3,354.8 512.0,352.8 515.0,351.0 517.6,349.1 520.3,349.8 522.7,349.3 525.6,349.7 528.7,350.5 531.0,350.5 534.0,351.0 536.7,351.1 539.7,350.6 542.0,350.1 544.7,348.5 547.3,347.6 550.4,347.4 553.0,346.5 555.7,345.0 558.4,342.9 561.0,341.6 564.0,340.4 566.7,338.4 569.3,337.5 572.0,336.0 574.7,335.8 577.3,336.0 580.3,335.5 583.3,335.4 586.0,335.3 588.7,334.1 591.3,332.8 594.0,331.4 596.7,330.5 599.7,328.0 602.0,325.0 605.0,321.7 608.0,319.5 610.4,316.9 613.3,314.1 615.7,311.1 619.0,311.5 621.6,312.5 624.7,313.4 627.0,314.6 630.0,316.2 632.7,318.1 635.3,319.3 638.0,321.1 640.7,323.2 643.7,325.9 646.0,327.1 649.0,329.0 651.3,331.3 654.3,333.1 657.0,333.2 660.0,333.0 662.7,332.7 665.3,332.5 668.0,332.6 670.7,332.8 673.3,333.3 676.0,333.8 679.0,334.9 681.6,335.1 684.7,334.6 687.3,333.8 690.4,332.8 693.3,333.5 695.7,333.9 698.4,334.6 701.0,335.5 703.7,336.6 706.0,337.5 709.0,337.9 711.7,338.6 714.4,340.0 717.0,340.1 720.0,341.5 723.0,344.1 725.3,347.2 728.3,349.3 730.7,350.0 733.6,350.2 736.3,349.2 739.0,348.8 742.0,348.0 744.7,346.7 747.7,346.0 750.0,344.0 753.0,342.9 755.7,342.9 758.4,343.0 761.0,342.5 763.7,341.6 766.4,340.8 769.0,341.0 772.0,341.2 774.7,341.7 777.6,340.6 780.3,340.1 783.3,340.3 786.0,340.7 788.7,342.0 791.3,341.6 794.0,340.3 796.7,338.2 799.3,336.9 802.4,336.5 805.0,337.1 808.0,337.3 810.4,338.2 813.0,339.4 815.8,340.7 818.6,341.5 821.0,341.6 824.0,341.7 826.8,343.2 829.5,344.7 832.7,347.1 835.0,349.6 837.6,352.3 840.2,354.2" fill="none" stroke="#f5c242" stroke-opacity="0.55" stroke-width="1" stroke-linejoin="round"/>
<polyline points="2.9,366.9 5.6,352.1 8.3,353.3 10.9,363.8 13.3,364.4 16.3,368.5 18.9,353.5 21.6,347.5 24.3,341.2 27.3,328.8 30.0,336.8 32.7,338.0 35.7,333.4 38.4,347.1 41.0,354.7 43.7,357.6 46.7,362.3 49.0,355.2 52.0,341.9 55.0,331.3 57.6,338.0 60.7,344.2 63.0,335.9 65.6,346.8 68.3,359.7 71.3,362.6 73.7,361.6 76.7,365.7 79.3,361.2 82.0,369.3 84.7,362.6 87.3,352.1 90.4,351.7 93.0,343.6 96.0,346.8 98.4,352.0 101.3,337.9 104.0,337.5 106.7,340.7 109.3,335.8 112.3,344.7 115.3,355.4 118.0,348.1 120.7,349.8 123.3,335.9 126.0,334.3 128.3,322.1 131.4,318.6 134.0,310.4 137.0,326.0 140.0,327.7 142.3,319.0 145.3,320.4 148.0,337.0 150.6,341.4 153.3,343.1 156.0,345.1 158.6,350.7 161.3,344.6 164.0,337.0 167.0,338.6 170.0,342.2 172.7,334.6 175.4,351.7 178.0,353.5 180.7,344.0 183.0,336.4 186.3,342.2 188.7,330.8 191.7,329.4 194.6,330.0 197.0,329.0 200.0,339.2 202.6,349.3 205.7,350.0 208.3,346.6 210.6,345.6 213.0,353.8 216.3,340.3 219.0,338.9 221.7,340.6 224.7,333.3 227.0,327.4 230.3,340.5 232.7,341.3 235.4,343.1 238.0,346.3 240.7,337.1 243.4,331.5 246.3,341.0 249.0,343.2 252.0,350.1 255.0,342.8 257.3,340.5 260.4,327.8 262.7,330.5 265.7,323.8 268.0,330.1 271.0,333.5 273.7,335.8 276.4,337.5 279.3,334.3 282.0,333.1 285.0,329.2 287.3,335.6 290.3,329.5 292.7,321.4 296.0,316.3 298.3,308.6 301.0,303.1 304.0,311.1 306.7,305.4 309.7,314.9 312.0,310.4 314.7,298.6 317.3,290.9 320.4,296.0 323.0,288.0 325.7,312.7 328.7,313.3 331.0,323.8 334.0,327.1 336.7,333.6 339.6,328.4 342.3,341.0 345.0,335.2 347.6,341.1 350.3,340.1 353.0,336.4 356.0,344.1 358.7,341.9 361.3,350.5 364.4,354.2 366.7,350.4 369.7,339.9 372.4,334.4 375.0,346.1 377.7,344.4 380.7,350.2 383.0,340.4 386.0,338.3 388.7,334.4 391.3,349.7 394.3,344.7 397.0,354.4 399.6,355.2 402.4,345.7 405.3,347.0 408.0,354.9 410.7,356.8 413.0,364.9 416.0,365.5 419.0,358.3 421.3,363.7 424.3,357.8 427.0,347.9 430.0,353.4 432.7,350.3 435.3,350.3 438.0,354.1 440.7,349.1 443.7,338.0 446.4,342.0 449.0,331.1 452.0,331.7 454.7,324.7 457.3,328.6 460.0,333.7 462.7,317.1 465.6,320.0 468.0,322.9 471.0,351.3 474.0,369.2 476.3,373.4 479.3,380.7 481.7,352.9 484.7,364.1 487.3,352.5 490.4,352.3 492.7,351.9 495.7,350.2 498.7,341.3 501.0,346.0 504.0,341.6 506.4,346.7 509.3,343.8 512.0,341.9 515.0,347.6 517.6,354.9 520.3,361.9 522.7,357.0 525.6,359.2 528.7,363.5 531.0,351.9 534.0,356.1 536.7,343.2 539.7,338.8 542.0,334.5 544.7,325.2 547.3,330.5 550.4,338.9 553.0,335.3 555.7,333.9 558.4,332.8 561.0,338.7 564.0,342.1 566.7,335.7 569.3,339.7 572.0,334.5 574.7,340.4 577.3,341.7 580.3,327.2 583.3,324.8 586.0,328.1 588.7,321.9 591.3,317.7 594.0,314.2 596.7,320.3 599.7,303.1 602.0,300.9 605.0,288.6 608.0,308.9 610.4,298.1 613.3,302.1 615.7,299.6 619.0,332.2 621.6,339.5 624.7,340.0 627.0,339.4 630.0,340.0 632.7,340.3 635.3,337.8 638.0,328.4 640.7,330.3 643.7,326.5 646.0,325.4 649.0,324.6 651.3,333.9 654.3,324.5 657.0,334.8 660.0,335.6 662.7,336.0 665.3,336.9 668.0,341.1 670.7,343.8 673.3,343.8 676.0,336.3 679.0,344.9 681.6,330.3 684.7,318.5 687.3,312.2 690.4,320.7 693.3,334.5 695.7,339.5 698.4,345.2 701.0,349.7 703.7,351.8 706.0,354.3 709.0,348.9 711.7,353.8 714.4,356.0 717.0,345.5 720.0,350.7 723.0,353.8 725.3,356.8 728.3,349.6 730.7,343.9 733.6,342.1 736.3,332.2 739.0,344.1 742.0,339.8 744.7,336.6 747.7,338.7 750.0,326.9 753.0,340.4 755.7,344.9 758.4,351.6 761.0,347.0 763.7,344.8 766.4,338.0 769.0,347.0 772.0,344.7 774.7,338.9 777.6,328.4 780.3,333.4 783.3,339.2 786.0,345.1 788.7,345.1 791.3,334.4 794.0,326.5 796.7,322.9 799.3,327.5 802.4,340.2 805.0,345.6 808.0,350.0 810.4,356.9 813.0,356.9 815.8,346.7 818.6,344.1 821.0,340.2 824.0,347.3 826.8,366.2 829.5,354.8 832.7,359.7 835.0,357.9 837.6,365.0 840.2,366.9" fill="none" stroke="#7e57c2" stroke-width="1" stroke-opacity="0.8" stroke-linejoin="round"/>
<rect x="2.0" y="426.1" width="1.8" height="7.7" fill="#ff5252"/>
<rect x="4.7" y="426.1" width="1.8" height="6.5" fill="#ffcdd2"/>
<rect x="7.4" y="426.1" width="1.8" height="5.6" fill="#ffcdd2"/>
<rect x="10.0" y="426.1" width="1.8" height="6.0" fill="#ff5252"/>
<rect x="12.4" y="426.1" width="1.8" height="6.0" fill="#ffcdd2"/>
<rect x="15.4" y="426.1" width="1.8" height="6.1" fill="#ff5252"/>
<rect x="18.0" y="426.1" width="1.8" height="4.7" fill="#ffcdd2"/>
<rect x="20.7" y="426.1" width="1.8" height="2.9" fill="#ffcdd2"/>
<rect x="23.4" y="426.1" width="1.8" height="1.0" fill="#ffcdd2"/>
<rect x="26.4" y="424.5" width="1.8" height="1.6" fill="#26a69a"/>
<rect x="29.1" y="423.6" width="1.8" height="2.5" fill="#26a69a"/>
<rect x="31.8" y="423.2" width="1.8" height="2.9" fill="#26a69a"/>
<rect x="34.8" y="422.6" width="1.8" height="3.5" fill="#26a69a"/>
<rect x="37.5" y="423.8" width="1.8" height="2.3" fill="#b2dfdb"/>
<rect x="40.1" y="425.5" width="1.8" height="0.6" fill="#b2dfdb"/>
<rect x="42.8" y="426.1" width="1.8" height="0.8" fill="#ff5252"/>
<rect x="45.8" y="426.1" width="1.8" height="2.3" fill="#ff5252"/>
<rect x="48.1" y="426.1" width="1.8" height="2.4" fill="#ff5252"/>
<rect x="51.1" y="426.1" width="1.8" height="1.0" fill="#ffcdd2"/>
<rect x="54.1" y="424.9" width="1.8" height="1.2" fill="#26a69a"/>
<rect x="56.7" y="424.3" width="1.8" height="1.8" fill="#26a69a"/>
<rect x="59.8" y="424.6" width="1.8" height="1.5" fill="#b2dfdb"/>
<rect x="62.1" y="423.9" width="1.8" height="2.2" fill="#26a69a"/>
<rect x="64.7" y="424.9" width="1.8" height="1.2" fill="#b2dfdb"/>
<rect x="67.4" y="426.1" width="1.8" height="1.5" fill="#ff5252"/>
<rect x="70.4" y="426.1" width="1.8" height="3.6" fill="#ff5252"/>
<rect x="72.8" y="426.1" width="1.8" height="4.5" fill="#ff5252"/>
<rect x="75.8" y="426.1" width="1.8" height="5.5" fill="#ff5252"/>
<rect x="78.4" y="426.1" width="1.8" height="5.3" fill="#ffcdd2"/>
<rect x="81.1" y="426.1" width="1.8" height="6.2" fill="#ff5252"/>
<rect x="83.8" y="426.1" width="1.8" height="5.7" fill="#ffcdd2"/>
<rect x="86.4" y="426.1" width="1.8" height="3.9" fill="#ffcdd2"/>
<rect x="89.5" y="426.1" width="1.8" height="2.4" fill="#ffcdd2"/>
<rect x="92.1" y="426.1" width="1.8" height="0.5" fill="#ffcdd2"/>
<rect x="95.1" y="425.3" width="1.8" height="0.8" fill="#26a69a"/>
<rect x="97.5" y="425.2" width="1.8" height="0.9" fill="#26a69a"/>
<rect x="100.4" y="423.5" width="1.8" height="2.6" fill="#26a69a"/>
<rect x="103.1" y="422.4" width="1.8" height="3.7" fill="#26a69a"/>
<rect x="105.8" y="422.1" width="1.8" height="4.0" fill="#26a69a"/>
<rect x="108.4" y="421.4" width="1.8" height="4.7" fill="#26a69a"/>
<rect x="111.4" y="422.2" width="1.8" height="3.9" fill="#b2dfdb"/>
<rect x="114.4" y="424.2" width="1.8" height="1.9" fill="#b2dfdb"/>
<rect x="117.1" y="424.7" width="1.8" height="1.4" fill="#b2dfdb"/>
<rect x="119.8" y="425.2" width="1.8" height="0.9" fill="#b2dfdb"/>
<rect x="122.4" y="424.0" width="1.8" height="2.1" fill="#26a69a"/>
<rect x="125.1" y="423.0" width="1.8" height="3.1" fill="#26a69a"/>
<rect x="127.4" y="420.9" width="1.8" height="5.2" fill="#26a69a"/>
<rect x="130.5" y="419.3" width="1.8" height="6.8" fill="#26a69a"/>
<rect x="133.1" y="417.3" width="1.8" height="8.8" fill="#26a69a"/>
<rect x="136.1" y="418.1" width="1.8" height="8.0" fill="#b2dfdb"/>
<rect x="139.1" y="419.2" width="1.8" height="6.9" fill="#b2dfdb"/>
<rect x="141.4" y="418.9" width="1.8" height="7.2" fill="#26a69a"/>
<rect x="144.4" y="419.3" width="1.8" height="6.8" fill="#b2dfdb"/>
<rect x="147.1" y="421.9" width="1.8" height="4.2" fill="#b2dfdb"/>
<rect x="149.7" y="424.4" width="1.8" height="1.7" fill="#b2dfdb"/>
<rect x="152.4" y="426.1" width="1.8" height="0.5" fill="#ff5252"/>
<rect x="155.1" y="426.1" width="1.8" height="1.7" fill="#ff5252"/>
<rect x="157.7" y="426.1" width="1.8" height="3.3" fill="#ff5252"/>
<rect x="160.4" y="426.1" width="1.8" height="3.6" fill="#ff5252"/>
<rect x="163.1" y="426.1" width="1.8" height="2.7" fill="#ffcdd2"/>
<rect x="166.1" y="426.1" width="1.8" height="2.2" fill="#ffcdd2"/>
<rect x="169.1" y="426.1" width="1.8" height="2.2" fill="#ffcdd2"/>
<rect x="171.8" y="426.1" width="1.8" height="1.2" fill="#ffcdd2"/>
<rect x="174.5" y="426.1" width="1.8" height="2.8" fill="#ff5252"/>
<rect x="177.1" y="426.1" width="1.8" height="3.9" fill="#ff5252"/>
<rect x="179.8" y="426.1" width="1.8" height="3.3" fill="#ffcdd2"/>
<rect x="182.1" y="426.1" width="1.8" height="1.9" fill="#ffcdd2"/>
<rect x="185.4" y="426.1" width="1.8" height="1.6" fill="#ffcdd2"/>
<rect x="187.8" y="426.0" width="1.8" height="0.5" fill="#26a69a"/>
<rect x="190.8" y="424.6" width="1.8" height="1.5" fill="#26a69a"/>
<rect x="193.7" y="423.9" width="1.8" height="2.2" fill="#26a69a"/>
<rect x="196.1" y="423.4" width="1.8" height="2.7" fill="#26a69a"/>
<rect x="199.1" y="424.3" width="1.8" height="1.8" fill="#b2dfdb"/>
<rect x="201.7" y="426.1" width="1.8" height="0.5" fill="#ff5252"/>
<rect x="204.8" y="426.1" width="1.8" height="1.4" fill="#ff5252"/>
<rect x="207.4" y="426.1" width="1.8" height="1.8" fill="#ff5252"/>
<rect x="209.7" y="426.1" width="1.8" height="1.8" fill="#ff5252"/>
<rect x="212.1" y="426.1" width="1.8" height="2.7" fill="#ff5252"/>
<rect x="215.4" y="426.1" width="1.8" height="1.7" fill="#ffcdd2"/>
<rect x="218.1" y="426.1" width="1.8" height="0.9" fill="#ffcdd2"/>
<rect x="220.8" y="426.1" width="1.8" height="0.5" fill="#ffcdd2"/>
<rect x="223.8" y="425.5" width="1.8" height="0.6" fill="#26a69a"/>
<rect x="226.1" y="424.2" width="1.8" height="1.9" fill="#26a69a"/>
<rect x="229.4" y="424.8" width="1.8" height="1.3" fill="#b2dfdb"/>
<rect x="231.8" y="425.2" width="1.8" height="0.9" fill="#b2dfdb"/>
<rect x="234.5" y="425.7" width="1.8" height="0.5" fill="#b2dfdb"/>
<rect x="237.1" y="426.1" width="1.8" height="0.5" fill="#ff5252"/>
<rect x="239.8" y="425.9" width="1.8" height="0.5" fill="#26a69a"/>
<rect x="242.5" y="425.0" width="1.8" height="1.1" fill="#26a69a"/>
<rect x="245.4" y="425.4" width="1.8" height="0.7" fill="#b2dfdb"/>
<rect x="248.1" y="425.9" width="1.8" height="0.5" fill="#b2dfdb"/>
<rect x="251.1" y="426.1" width="1.8" height="0.8" fill="#ff5252"/>
<rect x="254.1" y="426.1" width="1.8" height="0.7" fill="#ffcdd2"/>
<rect x="256.4" y="426.1" width="1.8" height="0.5" fill="#ffcdd2"/>
<rect x="259.5" y="425.1" width="1.8" height="1.0" fill="#26a69a"/>
<rect x="261.8" y="424.5" width="1.8" height="1.6" fill="#26a69a"/>
<rect x="264.8" y="423.5" width="1.8" height="2.6" fill="#26a69a"/>
<rect x="267.1" y="423.5" width="1.8" height="2.6" fill="#26a69a"/>
<rect x="270.1" y="423.9" width="1.8" height="2.2" fill="#b2dfdb"/>
<rect x="272.8" y="424.4" width="1.8" height="1.7" fill="#b2dfdb"/>
<rect x="275.5" y="425.0" width="1.8" height="1.1" fill="#b2dfdb"/>
<rect x="278.4" y="425.1" width="1.8" height="1.0" fill="#b2dfdb"/>
<rect x="281.1" y="425.2" width="1.8" height="0.9" fill="#b2dfdb"/>
<rect x="284.1" y="425.0" width="1.8" height="1.1" fill="#26a69a"/>
<rect x="286.4" y="425.3" width="1.8" height="0.8" fill="#b2dfdb"/>
<rect x="289.4" y="425.2" width="1.8" height="0.9" fill="#26a69a"/>
<rect x="291.8" y="424.5" width="1.8" height="1.6" fill="#26a69a"/>
<rect x="295.1" y="423.7" width="1.8" height="2.4" fill="#26a69a"/>
<rect x="297.4" y="422.7" width="1.8" height="3.4" fill="#26a69a"/>
<rect x="300.1" y="421.6" width="1.8" height="4.5" fill="#26a69a"/>
<rect x="303.1" y="421.7" width="1.8" height="4.4" fill="#b2dfdb"/>
<rect x="305.8" y="421.4" width="1.8" height="4.7" fill="#26a69a"/>
<rect x="308.8" y="422.0" width="1.8" height="4.1" fill="#b2dfdb"/>
<rect x="311.1" y="422.3" width="1.8" height="3.8" fill="#b2dfdb"/>
<rect x="313.8" y="421.3" width="1.8" height="4.8" fill="#26a69a"/>
<rect x="316.4" y="419.7" width="1.8" height="6.4" fill="#26a69a"/>
<rect x="319.5" y="419.5" width="1.8" height="6.6" fill="#26a69a"/>
<rect x="322.1" y="418.4" width="1.8" height="7.7" fill="#26a69a"/>
<rect x="324.8" y="420.1" width="1.8" height="6.0" fill="#b2dfdb"/>
<rect x="327.8" y="421.6" width="1.8" height="4.5" fill="#b2dfdb"/>
<rect x="330.1" y="423.9" width="1.8" height="2.2" fill="#b2dfdb"/>
<rect x="333.1" y="425.9" width="1.8" height="0.5" fill="#b2dfdb"/>
<rect x="335.8" y="426.1" width="1.8" height="1.8" fill="#ff5252"/>
<rect x="338.7" y="426.1" width="1.8" height="2.6" fill="#ff5252"/>
<rect x="341.4" y="426.1" width="1.8" height="4.4" fill="#ff5252"/>
<rect x="344.1" y="426.1" width="1.8" height="4.8" fill="#ff5252"/>
<rect x="346.7" y="426.1" width="1.8" height="5.6" fill="#ff5252"/>
<rect x="349.4" y="426.1" width="1.8" height="5.8" fill="#ff5252"/>
<rect x="352.1" y="426.1" width="1.8" height="5.4" fill="#ffcdd2"/>
<rect x="355.1" y="426.1" width="1.8" height="5.7" fill="#ff5252"/>
<rect x="357.8" y="426.1" width="1.8" height="5.5" fill="#ffcdd2"/>
<rect x="360.4" y="426.1" width="1.8" height="6.0" fill="#ff5252"/>
<rect x="363.5" y="426.1" width="1.8" height="6.5" fill="#ff5252"/>
<rect x="365.8" y="426.1" width="1.8" height="6.2" fill="#ffcdd2"/>
<rect x="368.8" y="426.1" width="1.8" height="4.9" fill="#ffcdd2"/>
<rect x="371.5" y="426.1" width="1.8" height="3.3" fill="#ffcdd2"/>
<rect x="374.1" y="426.1" width="1.8" height="3.3" fill="#ffcdd2"/>
<rect x="376.8" y="426.1" width="1.8" height="3.0" fill="#ffcdd2"/>
<rect x="379.8" y="426.1" width="1.8" height="3.2" fill="#ff5252"/>
<rect x="382.1" y="426.1" width="1.8" height="2.3" fill="#ffcdd2"/>
<rect x="385.1" y="426.1" width="1.8" height="1.5" fill="#ffcdd2"/>
<rect x="387.8" y="426.1" width="1.8" height="0.5" fill="#ffcdd2"/>
<rect x="390.4" y="426.1" width="1.8" height="1.3" fill="#ff5252"/>
<rect x="393.4" y="426.1" width="1.8" height="1.3" fill="#ffcdd2"/>
<rect x="396.1" y="426.1" width="1.8" height="2.3" fill="#ff5252"/>
<rect x="398.7" y="426.1" width="1.8" height="2.9" fill="#ff5252"/>
<rect x="401.5" y="426.1" width="1.8" height="2.3" fill="#ffcdd2"/>
<rect x="404.4" y="426.1" width="1.8" height="1.8" fill="#ffcdd2"/>
<rect x="407.1" y="426.1" width="1.8" height="2.3" fill="#ff5252"/>
<rect x="409.8" y="426.1" width="1.8" height="2.6" fill="#ff5252"/>
<rect x="412.1" y="426.1" width="1.8" height="3.6" fill="#ff5252"/>
<rect x="415.1" y="426.1" width="1.8" height="4.1" fill="#ff5252"/>
<rect x="418.1" y="426.1" width="1.8" height="3.6" fill="#ffcdd2"/>
<rect x="420.4" y="426.1" width="1.8" height="3.6" fill="#ff5252"/>
<rect x="423.4" y="426.1" width="1.8" height="3.0" fill="#ffcdd2"/>
<rect x="426.1" y="426.1" width="1.8" height="1.6" fill="#ffcdd2"/>
<rect x="429.1" y="426.1" width="1.8" height="1.1" fill="#ffcdd2"/>
<rect x="431.8" y="426.1" width="1.8" height="0.5" fill="#ffcdd2"/>
<rect x="434.4" y="425.9" width="1.8" height="0.5" fill="#26a69a"/>
<rect x="437.1" y="425.8" width="1.8" height="0.5" fill="#26a69a"/>
<rect x="439.8" y="425.3" width="1.8" height="0.8" fill="#26a69a"/>
<rect x="442.8" y="424.2" width="1.8" height="1.9" fill="#26a69a"/>
<rect x="445.5" y="423.7" width="1.8" height="2.4" fill="#26a69a"/>
<rect x="448.1" y="422.7" width="1.8" height="3.4" fill="#26a69a"/>
<rect x="451.1" y="422.1" width="1.8" height="4.0" fill="#26a69a"/>
<rect x="453.8" y="421.4" width="1.8" height="4.7" fill="#26a69a"/>
<rect x="456.4" y="421.3" width="1.8" height="4.8" fill="#26a69a"/>
<rect x="459.1" y="421.8" width="1.8" height="4.3" fill="#b2dfdb"/>
<rect x="461.8" y="420.9" width="1.8" height="5.2" fill="#26a69a"/>
<rect x="464.7" y="420.7" width="1.8" height="5.4" fill="#26a69a"/>
<rect x="467.1" y="421.0" width="1.8" height="5.1" fill="#b2dfdb"/>
<rect x="470.1" y="423.9" width="1.8" height="2.2" fill="#b2dfdb"/>
<rect x="473.1" y="426.1" width="1.8" height="2.3" fill="#ff5252"/>
<rect x="475.4" y="426.1" width="1.8" height="5.8" fill="#ff5252"/>
<rect x="478.4" y="426.1" width="1.8" height="9.3" fill="#ff5252"/>
<rect x="480.8" y="426.1" width="1.8" height="8.2" fill="#ffcdd2"/>
<rect x="483.8" y="426.1" width="1.8" height="9.3" fill="#ff5252"/>
<rect x="486.4" y="426.1" width="1.8" height="7.9" fill="#ffcdd2"/>
<rect x="489.5" y="426.1" width="1.8" height="6.4" fill="#ffcdd2"/>
<rect x="491.8" y="426.1" width="1.8" height="5.0" fill="#ffcdd2"/>
<rect x="494.8" y="426.1" width="1.8" height="3.5" fill="#ffcdd2"/>
<rect x="497.8" y="426.1" width="1.8" height="1.2" fill="#ffcdd2"/>
<rect x="500.1" y="426.1" width="1.8" height="0.5" fill="#ffcdd2"/>
<rect x="503.1" y="425.0" width="1.8" height="1.1" fill="#26a69a"/>
<rect x="505.5" y="424.8" width="1.8" height="1.3" fill="#26a69a"/>
<rect x="508.4" y="424.3" width="1.8" height="1.8" fill="#26a69a"/>
<rect x="511.1" y="423.7" width="1.8" height="2.4" fill="#26a69a"/>
<rect x="514.1" y="424.1" width="1.8" height="2.0" fill="#b2dfdb"/>
<rect x="516.7" y="425.3" width="1.8" height="0.8" fill="#b2dfdb"/>
<rect x="519.4" y="426.1" width="1.8" height="1.1" fill="#ff5252"/>
<rect x="521.8" y="426.1" width="1.8" height="1.6" fill="#ff5252"/>
<rect x="524.7" y="426.1" width="1.8" height="2.0" fill="#ff5252"/>
<rect x="527.8" y="426.1" width="1.8" height="2.8" fill="#ff5252"/>
<rect x="530.1" y="426.1" width="1.8" height="1.8" fill="#ffcdd2"/>
<rect x="533.1" y="426.1" width="1.8" height="1.6" fill="#ffcdd2"/>
<rect x="535.8" y="426.0" width="1.8" height="0.5" fill="#26a69a"/>
<rect x="538.8" y="424.3" width="1.8" height="1.8" fill="#26a69a"/>
<rect x="541.1" y="422.7" width="1.8" height="3.4" fill="#26a69a"/>
<rect x="543.8" y="420.5" width="1.8" height="5.6" fill="#26a69a"/>
<rect x="546.4" y="419.9" width="1.8" height="6.2" fill="#26a69a"/>
<rect x="549.5" y="420.7" width="1.8" height="5.4" fill="#b2dfdb"/>
<rect x="552.1" y="421.0" width="1.8" height="5.1" fill="#b2dfdb"/>
<rect x="554.8" y="421.2" width="1.8" height="4.9" fill="#b2dfdb"/>
<rect x="557.5" y="421.4" width="1.8" height="4.7" fill="#b2dfdb"/>
<rect x="560.1" y="422.3" width="1.8" height="3.8" fill="#b2dfdb"/>
<rect x="563.1" y="423.3" width="1.8" height="2.8" fill="#b2dfdb"/>
<rect x="565.8" y="423.5" width="1.8" height="2.6" fill="#b2dfdb"/>
<rect x="568.4" y="424.1" width="1.8" height="2.0" fill="#b2dfdb"/>
<rect x="571.1" y="424.0" width="1.8" height="2.1" fill="#26a69a"/>
<rect x="573.8" y="424.6" width="1.8" height="1.5" fill="#b2dfdb"/>
<rect x="576.4" y="425.1" width="1.8" height="1.0" fill="#b2dfdb"/>
<rect x="579.4" y="424.1" width="1.8" height="2.0" fill="#26a69a"/>
<rect x="582.4" y="423.3" width="1.8" height="2.8" fill="#26a69a"/>
<rect x="585.1" y="423.2" width="1.8" height="2.9" fill="#26a69a"/>
<rect x="587.8" y="422.7" width="1.8" height="3.4" fill="#26a69a"/>
<rect x="590.4" y="422.0" width="1.8" height="4.1" fill="#26a69a"/>
<rect x="593.1" y="421.5" width="1.8" height="4.6" fill="#26a69a"/>
<rect x="595.8" y="421.8" width="1.8" height="4.3" fill="#b2dfdb"/>
<rect x="598.8" y="420.1" width="1.8" height="6.0" fill="#26a69a"/>
<rect x="601.1" y="419.0" width="1.8" height="7.1" fill="#26a69a"/>
<rect x="604.1" y="416.3" width="1.8" height="9.8" fill="#26a69a"/>
<rect x="607.1" y="417.0" width="1.8" height="9.1" fill="#b2dfdb"/>
<rect x="609.5" y="415.7" width="1.8" height="10.4" fill="#26a69a"/>
<rect x="612.4" y="416.0" width="1.8" height="10.1" fill="#b2dfdb"/>
<rect x="614.8" y="416.3" width="1.8" height="9.8" fill="#b2dfdb"/>
<rect x="618.1" y="421.2" width="1.8" height="4.9" fill="#b2dfdb"/>
<rect x="620.7" y="425.9" width="1.8" height="0.5" fill="#b2dfdb"/>
<rect x="623.8" y="426.1" width="1.8" height="3.1" fill="#ff5252"/>
<rect x="626.1" y="426.1" width="1.8" height="5.0" fill="#ff5252"/>
<rect x="629.1" y="426.1" width="1.8" height="6.2" fill="#ff5252"/>
<rect x="631.8" y="426.1" width="1.8" height="6.8" fill="#ff5252"/>
<rect x="634.4" y="426.1" width="1.8" height="6.7" fill="#ffcdd2"/>
<rect x="637.1" y="426.1" width="1.8" height="5.1" fill="#ffcdd2"/>
<rect x="639.8" y="426.1" width="1.8" height="4.2" fill="#ffcdd2"/>
<rect x="642.8" y="426.1" width="1.8" height="3.0" fill="#ffcdd2"/>
<rect x="645.1" y="426.1" width="1.8" height="2.1" fill="#ffcdd2"/>
<rect x="648.1" y="426.1" width="1.8" height="1.3" fill="#ffcdd2"/>
<rect x="650.4" y="426.1" width="1.8" height="1.8" fill="#ff5252"/>
<rect x="653.4" y="426.1" width="1.8" height="1.0" fill="#ffcdd2"/>
<rect x="656.1" y="426.1" width="1.8" height="1.5" fill="#ff5252"/>
<rect x="659.1" y="426.1" width="1.8" height="2.0" fill="#ff5252"/>
<rect x="661.8" y="426.1" width="1.8" height="2.3" fill="#ff5252"/>
<rect x="664.4" y="426.1" width="1.8" height="2.4" fill="#ff5252"/>
<rect x="667.1" y="426.1" width="1.8" height="2.9" fill="#ff5252"/>
<rect x="669.8" y="426.1" width="1.8" height="3.3" fill="#ff5252"/>
<rect x="672.4" y="426.1" width="1.8" height="3.4" fill="#ff5252"/>
<rect x="675.1" y="426.1" width="1.8" height="2.8" fill="#ffcdd2"/>
<rect x="678.1" y="426.1" width="1.8" height="3.0" fill="#ff5252"/>
<rect x="680.7" y="426.1" width="1.8" height="1.8" fill="#ffcdd2"/>
<rect x="683.8" y="425.7" width="1.8" height="0.5" fill="#26a69a"/>
<rect x="686.4" y="423.6" width="1.8" height="2.5" fill="#26a69a"/>
<rect x="689.5" y="423.2" width="1.8" height="2.9" fill="#26a69a"/>
<rect x="692.4" y="424.4" width="1.8" height="1.7" fill="#b2dfdb"/>
<rect x="694.8" y="425.8" width="1.8" height="0.5" fill="#b2dfdb"/>
<rect x="697.5" y="426.1" width="1.8" height="1.2" fill="#ff5252"/>
<rect x="700.1" y="426.1" width="1.8" height="2.7" fill="#ff5252"/>
<rect x="702.8" y="426.1" width="1.8" height="3.8" fill="#ff5252"/>
<rect x="705.1" y="426.1" width="1.8" height="4.6" fill="#ff5252"/>
<rect x="708.1" y="426.1" width="1.8" height="4.4" fill="#ffcdd2"/>
<rect x="710.8" y="426.1" width="1.8" height="4.6" fill="#ff5252"/>
<rect x="713.5" y="426.1" width="1.8" height="4.7" fill="#ff5252"/>
<rect x="716.1" y="426.1" width="1.8" height="3.7" fill="#ffcdd2"/>
<rect x="719.1" y="426.1" width="1.8" height="3.4" fill="#ffcdd2"/>
<rect x="722.1" y="426.1" width="1.8" height="3.3" fill="#ffcdd2"/>
<rect x="724.4" y="426.1" width="1.8" height="3.3" fill="#ff5252"/>
<rect x="727.4" y="426.1" width="1.8" height="2.6" fill="#ffcdd2"/>
<rect x="729.8" y="426.1" width="1.8" height="1.6" fill="#ffcdd2"/>
<rect x="732.7" y="426.1" width="1.8" height="0.6" fill="#ffcdd2"/>
<rect x="735.4" y="425.2" width="1.8" height="0.9" fill="#26a69a"/>
<rect x="738.1" y="425.3" width="1.8" height="0.8" fill="#b2dfdb"/>
<rect x="741.1" y="425.0" width="1.8" height="1.1" fill="#26a69a"/>
<rect x="743.8" y="424.5" width="1.8" height="1.6" fill="#26a69a"/>
<rect x="746.8" y="424.4" width="1.8" height="1.7" fill="#26a69a"/>
<rect x="749.1" y="423.4" width="1.8" height="2.7" fill="#26a69a"/>
<rect x="752.1" y="424.0" width="1.8" height="2.1" fill="#b2dfdb"/>
<rect x="754.8" y="424.9" width="1.8" height="1.2" fill="#b2dfdb"/>
<rect x="757.5" y="426.1" width="1.8" height="0.5" fill="#b2dfdb"/>
<rect x="760.1" y="426.1" width="1.8" height="0.5" fill="#ff5252"/>
<rect x="762.8" y="426.1" width="1.8" height="0.5" fill="#ff5252"/>
<rect x="765.5" y="425.9" width="1.8" height="0.5" fill="#26a69a"/>
<rect x="768.1" y="426.1" width="1.8" height="0.5" fill="#ff5252"/>
<rect x="771.1" y="426.1" width="1.8" height="0.5" fill="#ff5252"/>
<rect x="773.8" y="425.9" width="1.8" height="0.5" fill="#26a69a"/>
<rect x="776.7" y="424.7" width="1.8" height="1.4" fill="#26a69a"/>
<rect x="779.4" y="424.4" width="1.8" height="1.7" fill="#26a69a"/>
<rect x="782.4" y="424.7" width="1.8" height="1.4" fill="#b2dfdb"/>
<rect x="785.1" y="425.4" width="1.8" height="0.7" fill="#b2dfdb"/>
<rect x="787.8" y="425.9" width="1.8" height="0.5" fill="#b2dfdb"/>
<rect x="790.4" y="425.4" width="1.8" height="0.7" fill="#26a69a"/>
<rect x="793.1" y="424.4" width="1.8" height="1.7" fill="#26a69a"/>
<rect x="795.8" y="423.6" width="1.8" height="2.5" fill="#26a69a"/>
<rect x="798.4" y="423.5" width="1.8" height="2.6" fill="#26a69a"/>
<rect x="801.5" y="424.5" width="1.8" height="1.6" fill="#b2dfdb"/>
<rect x="804.1" y="425.6" width="1.8" height="0.5" fill="#b2dfdb"/>
<rect x="807.1" y="426.1" width="1.8" height="0.6" fill="#ff5252"/>
<rect x="809.5" y="426.1" width="1.8" height="2.0" fill="#ff5252"/>
<rect x="812.1" y="426.1" width="1.8" height="2.7" fill="#ff5252"/>
<rect x="814.9" y="426.1" width="1.8" height="2.3" fill="#ffcdd2"/>
<rect x="817.7" y="426.1" width="1.8" height="1.8" fill="#ffcdd2"/>
<rect x="820.1" y="426.1" width="1.8" height="1.1" fill="#ffcdd2"/>
<rect x="823.1" y="426.1" width="1.8" height="1.1" fill="#ffcdd2"/>
<rect x="825.9" y="426.1" width="1.8" height="2.9" fill="#ff5252"/>
<rect x="828.6" y="426.1" width="1.8" height="3.1" fill="#ff5252"/>
<rect x="831.8" y="426.1" width="1.8" height="3.5" fill="#ff5252"/>
<rect x="834.1" y="426.1" width="1.8" height="3.5" fill="#ffcdd2"/>
<rect x="836.7" y="426.1" width="1.8" height="4.0" fill="#ff5252"/>
<rect x="839.3" y="426.1" width="1.8" height="4.3" fill="#ff5252"/>
<polyline points="2.9,436.8 5.6,437.3 8.3,437.7 10.9,439.6 13.3,441.1 16.3,442.8 18.9,442.5 21.6,441.5 24.3,439.8 27.3,436.8 30.0,435.3 32.7,434.2 35.7,432.7 38.4,433.3 41.0,434.9 43.7,436.5 46.7,438.5 49.0,439.2 52.0,438.1 55.0,435.6 57.6,434.5 60.7,434.5 63.0,433.3 65.6,434.0 68.3,437.0 71.3,440.0 73.7,442.0 76.7,444.4 79.3,445.5 82.0,448.0 84.7,448.9 87.3,448.1 90.4,447.1 93.0,445.1 96.0,443.8 98.4,443.5 101.3,441.1 104.0,439.1 106.7,437.8 109.3,436.0 112.3,435.8 115.3,437.3 118.0,437.5 120.7,437.8 123.3,436.0 126.0,434.3 128.3,430.9 131.4,427.6 134.0,423.3 137.0,422.1 140.0,421.5 142.3,419.4 145.3,418.1 148.0,419.6 150.6,421.7 153.3,423.7 156.0,425.6 158.6,428.1 161.3,429.2 164.0,429.0 167.0,429.0 170.0,429.5 172.7,428.9 175.4,431.1 178.0,433.2 180.7,433.5 183.0,432.5 186.3,432.6 188.7,430.8 191.7,429.2 194.6,427.9 197.0,426.8 200.0,427.2 202.6,429.2 205.7,430.8 208.3,431.6 210.6,432.0 213.0,433.6 216.3,433.1 219.0,432.5 221.7,432.1 224.7,430.9 227.0,429.2 230.3,429.4 232.7,429.7 235.4,430.0 238.0,430.7 240.7,430.2 243.4,429.1 246.3,429.3 249.0,429.7 252.0,430.9 255.0,431.0 257.3,430.8 260.4,429.2 262.7,428.2 265.7,426.5 268.0,425.8 271.0,425.7 273.7,425.8 276.4,426.1 279.3,426.0 282.0,425.8 285.0,425.3 287.3,425.5 290.3,425.1 292.7,424.0 296.0,422.7 298.3,420.7 301.0,418.5 304.0,417.5 306.7,416.0 309.7,415.6 312.0,414.9 314.7,412.7 317.3,409.6 320.4,407.7 323.0,404.7 325.7,404.9 328.7,405.3 331.0,407.0 334.0,409.0 336.7,411.5 339.6,412.9 342.3,415.8 345.0,417.5 347.6,419.6 350.3,421.3 353.0,422.2 356.0,424.0 358.7,425.1 361.3,427.2 364.4,429.3 366.7,430.6 369.7,430.4 372.4,429.7 375.0,430.5 377.7,430.9 380.7,431.9 383.0,431.7 386.0,431.2 388.7,430.3 391.3,431.4 394.3,431.8 397.0,433.3 399.6,434.6 402.4,434.6 405.3,434.6 408.0,435.6 410.7,436.6 413.0,438.6 416.0,440.0 419.0,440.4 421.3,441.4 424.3,441.5 427.0,440.5 430.0,440.3 432.7,439.7 435.3,439.0 438.0,438.8 440.7,438.1 443.7,436.5 446.4,435.5 449.0,433.6 452.0,432.1 454.7,430.1 457.3,428.8 460.0,428.2 462.7,426.0 465.6,424.5 468.0,423.6 471.0,425.9 474.0,431.0 476.3,435.9 479.3,441.8 481.7,442.7 484.7,446.1 487.3,446.7 490.4,446.8 492.7,446.7 495.7,446.1 498.7,444.0 501.0,443.1 504.0,441.5 506.4,441.0 509.3,440.0 512.0,438.8 515.0,438.7 517.6,439.8 520.3,441.9 522.7,442.8 525.6,443.7 528.7,445.2 531.0,444.7 534.0,444.9 536.7,443.2 539.7,441.0 542.0,438.5 544.7,435.0 547.3,432.8 550.4,432.3 553.0,431.3 555.7,430.3 558.4,429.3 561.0,429.2 564.0,429.6 566.7,429.1 569.3,429.1 572.0,428.5 574.7,428.8 577.3,429.1 580.3,427.6 583.3,426.1 586.0,425.2 588.7,423.8 591.3,422.2 594.0,420.4 596.7,419.7 599.7,416.5 602.0,413.6 605.0,408.5 608.0,406.9 610.4,403.0 613.3,400.8 615.7,398.6 619.0,402.3 621.6,407.0 624.7,411.0 627.0,414.2 630.0,416.9 632.7,419.2 635.3,420.7 638.0,420.5 640.7,420.6 643.7,420.2 646.0,419.8 649.0,419.4 651.3,420.3 654.3,419.7 657.0,420.6 660.0,421.6 662.7,422.4 665.3,423.2 668.0,424.4 670.7,425.6 673.3,426.6 676.0,426.7 679.0,427.6 681.6,426.8 684.7,424.6 687.3,421.9 690.4,420.7 693.3,421.5 695.7,422.8 698.4,424.7 701.0,426.8 703.7,428.9 706.0,430.8 709.0,431.7 711.7,433.0 714.4,434.3 717.0,434.2 720.0,434.8 723.0,435.5 725.3,436.4 728.3,436.3 730.7,435.6 733.6,434.8 736.3,433.1 739.0,433.0 742.0,432.4 744.7,431.6 747.7,431.0 750.0,429.4 753.0,429.5 755.7,430.0 758.4,431.2 761.0,431.7 763.7,431.8 766.4,431.2 769.0,431.6 772.0,431.7 774.7,431.2 777.6,429.7 780.3,428.9 783.3,428.9 786.0,429.4 788.7,429.8 791.3,429.2 794.0,427.8 796.7,426.3 799.3,425.6 802.4,426.1 805.0,427.2 808.0,428.4 810.4,430.2 813.0,431.6 815.8,431.8 818.6,431.7 821.0,431.3 824.0,431.6 826.8,434.1 829.5,435.1 832.7,436.4 835.0,437.2 837.6,438.7 840.2,440.1" fill="none" stroke="#2962ff" stroke-width="0.9" stroke-opacity="0.8"/>
<polyline points="2.9,429.1 5.6,430.7 8.3,432.1 10.9,433.6 13.3,435.1 16.3,436.6 18.9,437.8 21.6,438.6 24.3,438.8 27.3,438.4 30.0,437.8 32.7,437.1 35.7,436.2 38.4,435.6 41.0,435.5 43.7,435.7 46.7,436.3 49.0,436.8 52.0,437.1 55.0,436.8 57.6,436.4 60.7,436.0 63.0,435.4 65.6,435.2 68.3,435.5 71.3,436.4 73.7,437.5 76.7,438.9 79.3,440.2 82.0,441.8 84.7,443.2 87.3,444.2 90.4,444.8 93.0,444.8 96.0,444.6 98.4,444.4 101.3,443.7 104.0,442.8 106.7,441.8 109.3,440.6 112.3,439.7 115.3,439.2 118.0,438.9 120.7,438.6 123.3,438.1 126.0,437.3 128.3,436.1 131.4,434.4 134.0,432.1 137.0,430.1 140.0,428.4 142.3,426.6 145.3,424.9 148.0,423.9 150.6,423.4 153.3,423.5 156.0,423.9 158.6,424.7 161.3,425.6 164.0,426.3 167.0,426.8 170.0,427.4 172.7,427.7 175.4,428.4 178.0,429.3 180.7,430.2 183.0,430.6 186.3,431.0 188.7,431.0 191.7,430.6 194.6,430.1 197.0,429.4 200.0,429.0 202.6,429.0 205.7,429.4 208.3,429.8 210.6,430.3 213.0,430.9 216.3,431.4 219.0,431.6 221.7,431.7 224.7,431.5 227.0,431.1 230.3,430.7 232.7,430.5 235.4,430.4 238.0,430.5 240.7,430.4 243.4,430.2 246.3,430.0 249.0,429.9 252.0,430.1 255.0,430.3 257.3,430.4 260.4,430.2 262.7,429.8 265.7,429.1 268.0,428.5 271.0,427.9 273.7,427.5 276.4,427.2 279.3,427.0 282.0,426.7 285.0,426.4 287.3,426.2 290.3,426.0 292.7,425.6 296.0,425.0 298.3,424.2 301.0,423.0 304.0,421.9 306.7,420.7 309.7,419.7 312.0,418.8 314.7,417.6 317.3,416.0 320.4,414.3 323.0,412.4 325.7,410.9 328.7,409.8 331.0,409.2 334.0,409.2 336.7,409.6 339.6,410.3 342.3,411.4 345.0,412.6 347.6,414.0 350.3,415.5 353.0,416.8 356.0,418.3 358.7,419.6 361.3,421.1 364.4,422.8 366.7,424.3 369.7,425.6 372.4,426.4 375.0,427.2 377.7,427.9 380.7,428.7 383.0,429.3 386.0,429.7 388.7,429.8 391.3,430.1 394.3,430.5 397.0,431.0 399.6,431.8 402.4,432.3 405.3,432.8 408.0,433.4 410.7,434.0 413.0,434.9 416.0,435.9 419.0,436.8 421.3,437.7 424.3,438.5 427.0,438.9 430.0,439.2 432.7,439.3 435.3,439.2 438.0,439.1 440.7,438.9 443.7,438.5 446.4,437.9 449.0,437.0 452.0,436.0 454.7,434.8 457.3,433.6 460.0,432.6 462.7,431.2 465.6,429.9 468.0,428.6 471.0,428.1 474.0,428.7 476.3,430.1 479.3,432.4 481.7,434.5 484.7,436.8 487.3,438.8 490.4,440.4 492.7,441.6 495.7,442.5 498.7,442.8 501.0,442.9 504.0,442.6 506.4,442.3 509.3,441.8 512.0,441.2 515.0,440.7 517.6,440.5 520.3,440.8 522.7,441.2 525.6,441.7 528.7,442.4 531.0,442.9 534.0,443.3 536.7,443.3 539.7,442.8 542.0,442.0 544.7,440.6 547.3,439.0 550.4,437.7 553.0,436.4 555.7,435.2 558.4,434.0 561.0,433.0 564.0,432.3 566.7,431.7 569.3,431.2 572.0,430.6 574.7,430.3 577.3,430.0 580.3,429.5 583.3,428.8 586.0,428.1 588.7,427.3 591.3,426.2 594.0,425.1 596.7,424.0 599.7,422.5 602.0,420.7 605.0,418.3 608.0,416.0 610.4,413.4 613.3,410.9 615.7,408.4 619.0,407.2 621.6,407.1 624.7,407.9 627.0,409.1 630.0,410.7 632.7,412.4 635.3,414.1 638.0,415.4 640.7,416.4 643.7,417.2 646.0,417.7 649.0,418.0 651.3,418.5 654.3,418.7 657.0,419.1 660.0,419.6 662.7,420.2 665.3,420.8 668.0,421.5 670.7,422.3 673.3,423.2 676.0,423.9 679.0,424.6 681.6,425.1 684.7,425.0 687.3,424.4 690.4,423.6 693.3,423.2 695.7,423.1 698.4,423.4 701.0,424.1 703.7,425.1 706.0,426.2 709.0,427.3 711.7,428.5 714.4,429.6 717.0,430.5 720.0,431.4 723.0,432.2 725.3,433.0 728.3,433.7 730.7,434.1 733.6,434.2 736.3,434.0 739.0,433.8 742.0,433.5 744.7,433.1 747.7,432.7 750.0,432.1 753.0,431.5 755.7,431.2 758.4,431.2 761.0,431.3 763.7,431.4 766.4,431.4 769.0,431.4 772.0,431.5 774.7,431.4 777.6,431.1 780.3,430.6 783.3,430.3 786.0,430.1 788.7,430.1 791.3,429.9 794.0,429.5 796.7,428.8 799.3,428.2 802.4,427.8 805.0,427.6 808.0,427.8 810.4,428.3 813.0,429.0 815.8,429.5 818.6,430.0 821.0,430.2 824.0,430.5 826.8,431.2 829.5,432.0 832.7,432.9 835.0,433.7 837.6,434.7 840.2,435.8" fill="none" stroke="#ff6d00" stroke-width="0.9" stroke-opacity="0.8"/>
<path d="M815.6 7.5 L824.4 7.5 L818 35.2 Q816.6 41 811.2 41 L805 41 L811.4 13.4 Q812.6 7.5 815.6 7.5 Z" fill="#abc5ea"/>
<path d="M830.6 7.5 L839.1 7.5 L836.3 18.6 Q835.1 23.3 830.2 23.3 L824.2 23.3 L826.9 12.4 Q828.1 7.5 830.6 7.5 Z" fill="#abc5ea"/>
<text x="842.6" y="29.1" font-size="14.9" font-weight="bold" fill="#b4b4b4" textLength="71.3" lengthAdjust="spacingAndGlyphs">PUPRIME</text>
<rect x="620.7" y="152.4" width="23" height="8" fill="#9c27b0" fill-opacity="0.04" stroke="#8a62d6" stroke-width="1.1"/>
<rect x="755.3" y="169" width="14.3" height="5.3" fill="#f23645" fill-opacity="0.1" stroke="#f23645" stroke-width="1"/>
<line x1="2" y1="29.63" x2="923" y2="29.63" stroke="#2f358e" stroke-width="1.4"/>
<line x1="2" y1="92.31" x2="923" y2="92.31" stroke="#2f358e" stroke-width="1.4"/>
<line x1="2" y1="137.23" x2="923" y2="137.23" stroke="#3b57d6" stroke-width="1.4"/>
<line x1="2" y1="181.38" x2="923" y2="181.38" stroke="#3b57d6" stroke-width="1.4"/>
<line x1="2" y1="225.77" x2="923" y2="225.77" stroke="#2f358e" stroke-width="1.4"/>
<line x1="2" y1="270.49" x2="923" y2="270.49" stroke="#3b57d6" stroke-width="1.4"/>
<line x1="2" y1="236.2" x2="923" y2="236.2" stroke="#f23645" stroke-width="0.9" stroke-dasharray="1 1.6" stroke-opacity="0.45"/>
<circle cx="840.2" cy="235" r="1.4" fill="#f23645"/>
<text x="929.8" y="74.5" font-size="10.1" fill="#2a2e39" textLength="23.4" lengthAdjust="spacingAndGlyphs">75.00</text>
<text x="929.8" y="107.2" font-size="10.1" fill="#2a2e39" textLength="23.4" lengthAdjust="spacingAndGlyphs">71.00</text>
<text x="929.8" y="207.6" font-size="10.1" fill="#2a2e39" textLength="23.4" lengthAdjust="spacingAndGlyphs">60.00</text>
<text x="929.8" y="266.5" font-size="10.1" fill="#2a2e39" textLength="23.4" lengthAdjust="spacingAndGlyphs">54.50</text>
<rect x="923.8" y="85.8" width="33.2" height="13.4" fill="#1f3fcc"/>
<text x="929.8" y="96.0" font-size="10.1" fill="#fff" textLength="23.6" lengthAdjust="spacingAndGlyphs" stroke="#fff" stroke-width="0.3">72.38</text>
<rect x="923.8" y="130.9" width="33.2" height="13.3" fill="#2962ff"/>
<text x="929.8" y="141.1" font-size="10.1" fill="#fff" textLength="23.6" lengthAdjust="spacingAndGlyphs" stroke="#fff" stroke-width="0.3">67.13</text>
<rect x="923.8" y="157.7" width="33.2" height="12.7" fill="#f23645"/>
<text x="929.8" y="167.5" font-size="10.1" fill="#fff" textLength="23.6" lengthAdjust="spacingAndGlyphs" stroke="#fff" stroke-width="0.3">62.56</text>
<rect x="923.8" y="170.4" width="33.2" height="13.0" fill="#2962ff"/>
<text x="929.8" y="180.4" font-size="10.1" fill="#fff" textLength="23.6" lengthAdjust="spacingAndGlyphs" stroke="#fff" stroke-width="0.3">62.34</text>
<rect x="923.8" y="183.4" width="33.2" height="13.4" fill="#f5c21b"/>
<text x="929.8" y="193.6" font-size="10.1" fill="#2a2e39" textLength="23.6" lengthAdjust="spacingAndGlyphs" stroke="#2a2e39" stroke-width="0.3">61.35</text>
<rect x="923.8" y="216.2" width="33.2" height="13.4" fill="#1f3fcc"/>
<text x="929.8" y="226.4" font-size="10.1" fill="#fff" textLength="23.6" lengthAdjust="spacingAndGlyphs" stroke="#fff" stroke-width="0.3">57.87</text>
<rect x="923.8" y="229.6" width="47.5" height="25" fill="#f23645"/>
<text x="929.8" y="240.1" font-size="10.1" fill="#fff" textLength="23.6" lengthAdjust="spacingAndGlyphs" stroke="#fff" stroke-width="0.3">56.89</text>
<text x="929.8" y="251.1" font-size="10.1" fill="#fff" textLength="37.5" lengthAdjust="spacingAndGlyphs" stroke="#fff" stroke-width="0.3">19:24:45</text>
<rect x="923.8" y="263.2" width="33.2" height="12.8" fill="#2962ff"/>
<text x="929.8" y="273.1" font-size="10.1" fill="#fff" textLength="23.6" lengthAdjust="spacingAndGlyphs" stroke="#fff" stroke-width="0.3">53.69</text>
<text x="929.8" y="285.4" font-size="10.1" fill="#2a2e39" textLength="23.4" lengthAdjust="spacingAndGlyphs">80.00</text>
<text x="929.8" y="320.5" font-size="10.1" fill="#2a2e39" textLength="23.4" lengthAdjust="spacingAndGlyphs">60.00</text>
<text x="929.8" y="391.4" font-size="10.1" fill="#2a2e39" textLength="23.4" lengthAdjust="spacingAndGlyphs">20.00</text>
<rect x="923.8" y="347.4" width="33.2" height="13.6" fill="#f5c21b"/>
<text x="929.8" y="357.7" font-size="10.1" fill="#2a2e39" textLength="23.6" lengthAdjust="spacingAndGlyphs" stroke="#2a2e39" stroke-width="0.3">39.18</text>
<rect x="923.8" y="361.1" width="33.2" height="13.4" fill="#7e57c2"/>
<text x="929.8" y="371.3" font-size="10.1" fill="#fff" textLength="23.6" lengthAdjust="spacingAndGlyphs" stroke="#fff" stroke-width="0.3">31.71</text>
<rect x="923.8" y="424" width="33.2" height="13.8" fill="#f7525f"/>
<text x="929.3" y="434.3" font-size="10.1" fill="#fff" textLength="24" lengthAdjust="spacingAndGlyphs" stroke="#fff" stroke-width="0.3">−0.47</text>
<rect x="923.8" y="437.8" width="33.2" height="14.2" fill="#ff6d00"/>
<text x="929.3" y="448.3" font-size="10.1" fill="#fff" textLength="24" lengthAdjust="spacingAndGlyphs" stroke="#fff" stroke-width="0.3">−1.04</text>
<rect x="923.8" y="452" width="33.2" height="3" fill="#2962ff"/>
<defs><clipPath id="tc"><rect x="1.8" y="455" width="921.5" height="20"/></clipPath></defs><g clip-path="url(#tc)">
<text x="67.7" y="469" font-size="10.1" fill="#2a2e39" text-anchor="middle">Sep</text>
<text x="122.7" y="469" font-size="10.1" fill="#2a2e39" text-anchor="middle">Oct</text>
<text x="185.7" y="469" font-size="10.1" fill="#2a2e39" text-anchor="middle">Nov</text>
<text x="240.7" y="469" font-size="10.1" fill="#2a2e39" text-anchor="middle">Dec</text>
<text x="298.3" y="469" font-size="10.1" fill="#2a2e39" text-anchor="middle" font-weight="bold">2025</text>
<text x="355.7" y="469" font-size="10.1" fill="#2a2e39" text-anchor="middle">Feb</text>
<text x="407.7" y="469" font-size="10.1" fill="#2a2e39" text-anchor="middle">Mar</text>
<text x="465.0" y="469" font-size="10.1" fill="#2a2e39" text-anchor="middle">Apr</text>
<text x="522.3" y="469" font-size="10.1" fill="#2a2e39" text-anchor="middle">May</text>
<text x="580.0" y="469" font-size="10.1" fill="#2a2e39" text-anchor="middle">Jun</text>
<text x="635.0" y="469" font-size="10.1" fill="#2a2e39" text-anchor="middle">Jul</text>
<text x="692.3" y="469" font-size="10.1" fill="#2a2e39" text-anchor="middle">Aug</text>
<text x="750.0" y="469" font-size="10.1" fill="#2a2e39" text-anchor="middle">Sep</text>
<text x="807.3" y="469" font-size="10.1" fill="#2a2e39" text-anchor="middle">Oct</text>
<text x="870.7" y="469" font-size="10.1" fill="#2a2e39" text-anchor="middle">Nov</text>
<text x="921.7" y="469" font-size="10.1" fill="#2a2e39" text-anchor="middle">Dec</text>
<text x="7.4" y="469" font-size="10.1" fill="#2a2e39" text-anchor="middle">Aug</text>
</g>
<path d="M949 461.2 l4.2 2.4 v4.8 l-4.2 2.4 l-4.2 -2.4 v-4.8 z" fill="none" stroke="#2a2e39" stroke-width="0.9"/><circle cx="949" cy="466" r="1.5" fill="none" stroke="#2a2e39" stroke-width="0.9"/>
<circle cx="12.6" cy="11.4" r="4.4" fill="#089981" fill-opacity="0.15"/><circle cx="12.6" cy="11.4" r="2.5" fill="#089981"/>
<text x="22.7" y="14.4" font-size="8.4" fill="#2a2e39" textLength="4.4" lengthAdjust="spacingAndGlyphs">O</text>
<text x="28.4" y="14.4" font-size="8.4" fill="#f23645" textLength="19.6" lengthAdjust="spacingAndGlyphs">57.03</text>
<text x="51.8" y="14.4" font-size="8.4" fill="#2a2e39" textLength="4.4" lengthAdjust="spacingAndGlyphs">H</text>
<text x="57.4" y="14.4" font-size="8.4" fill="#f23645" textLength="19.0" lengthAdjust="spacingAndGlyphs">57.09</text>
<text x="80.8" y="14.4" font-size="8.4" fill="#2a2e39" textLength="3.6" lengthAdjust="spacingAndGlyphs">L</text>
<text x="84.6" y="14.4" font-size="8.4" fill="#f23645" textLength="19.6" lengthAdjust="spacingAndGlyphs">56.83</text>
<text x="107.3" y="14.4" font-size="8.4" fill="#2a2e39" textLength="4.8" lengthAdjust="spacingAndGlyphs">C</text>
<text x="113" y="14.4" font-size="8.4" fill="#f23645" textLength="18.5" lengthAdjust="spacingAndGlyphs">56.89</text>
<text x="136.4" y="14.4" font-size="8.4" fill="#f23645" textLength="17.8" lengthAdjust="spacingAndGlyphs">−0.52</text>
<text x="158.2" y="14.4" font-size="8.4" fill="#f23645" textLength="28.7" lengthAdjust="spacingAndGlyphs">(−0.91%)</text>
<rect x="8" y="21.6" width="31.6" height="19.6" rx="3" fill="#fff" stroke="#f23645" stroke-opacity="0.75" stroke-width="1"/>
<text x="23.8" y="30.2" font-size="8.6" fill="#f23645" text-anchor="middle">56.89</text>
<text x="23.8" y="38.6" font-size="6.6" fill="#f23645" text-anchor="middle">SELL</text>
<rect x="44" y="25.5" width="12.4" height="9" fill="#ffffff"/>
<text x="50" y="33.8" font-size="7" fill="#3a3d48" text-anchor="middle">0.01</text>
<rect x="61.8" y="21.6" width="31.8" height="19.6" rx="3" fill="#fff" stroke="#2962ff" stroke-opacity="0.75" stroke-width="1"/>
<text x="77.7" y="30.2" font-size="8.6" fill="#2962ff" text-anchor="middle">56.90</text>
<text x="77.7" y="38.6" font-size="6.6" fill="#2962ff" text-anchor="middle">BUY</text>
<rect x="7.6" y="60.1" width="16.4" height="12.1" rx="2" fill="#ffffff" fill-opacity="0.75" stroke="#d8dbe3" stroke-opacity="0.7" stroke-width="0.8"/><path d="M12.6 68.3 L15.3 65.6 L18 68.3" fill="none" stroke="#50535e" stroke-width="1"/>
<text x="7.4" y="54.0" font-size="8.4" fill="#2a2e39" textLength="152" lengthAdjust="spacingAndGlyphs">MA Ribbon SMA 20 SMA 50 SMA 100 SMA 200</text>
<circle cx="170" cy="51.1" r="5" fill="#7e57c2" fill-opacity="0.12"/>
<path d="M166.9 50.5 A3.2 3.2 0 0 1 172.6 49.300000000000004" fill="none" stroke="#6236e8" stroke-width="1.4"/>
<path d="M173.1 51.7 A3.2 3.2 0 0 1 167.4 52.9" fill="none" stroke="#6236e8" stroke-width="1.4"/>
<path d="M171.2 48.5 l2.6 -0.2 l-0.4 2.5 z" fill="#6236e8"/><path d="M168.8 53.7 l-2.6 0.2 l0.4 -2.5 z" fill="#6236e8"/>
<text x="179.7" y="54.0" font-size="8.4" fill="#f2c94c" textLength="19" lengthAdjust="spacingAndGlyphs">61.35</text>
<text x="202.8" y="54.0" font-size="8.4" fill="#e5606d" textLength="19" lengthAdjust="spacingAndGlyphs">62.56</text>
<ellipse cx="228" cy="51.1" rx="1.75" ry="2.6" fill="none" stroke="#1e222d" stroke-width="1"/><line x1="226.1" y1="54.0" x2="229.9" y2="48.2" stroke="#1e222d" stroke-width="0.9"/>
<ellipse cx="236.7" cy="51.1" rx="1.75" ry="2.6" fill="none" stroke="#1e222d" stroke-width="1"/><line x1="234.79999999999998" y1="54.0" x2="238.6" y2="48.2" stroke="#1e222d" stroke-width="0.9"/>
<text x="8" y="289.2" font-size="8.4" fill="#2a2e39" textLength="40" lengthAdjust="spacingAndGlyphs">RSI 14 close</text>
<circle cx="58.7" cy="286" r="5" fill="#7e57c2" fill-opacity="0.12"/>
<path d="M55.6 285.4 A3.2 3.2 0 0 1 61.300000000000004 284.2" fill="none" stroke="#6236e8" stroke-width="1.4"/>
<path d="M61.800000000000004 286.6 A3.2 3.2 0 0 1 56.1 287.8" fill="none" stroke="#6236e8" stroke-width="1.4"/>
<path d="M59.900000000000006 283.4 l2.6 -0.2 l-0.4 2.5 z" fill="#6236e8"/><path d="M57.5 288.6 l-2.6 0.2 l0.4 -2.5 z" fill="#6236e8"/>
<text x="69" y="289.2" font-size="8.4" fill="#8e6bd0" textLength="18.3" lengthAdjust="spacingAndGlyphs">31.71</text>
<text x="92" y="289.2" font-size="8.4" fill="#f2c94c" textLength="19" lengthAdjust="spacingAndGlyphs">39.18</text>
<ellipse cx="117" cy="286.3" rx="1.75" ry="2.6" fill="none" stroke="#1e222d" stroke-width="1"/><line x1="115.1" y1="289.2" x2="118.9" y2="283.40000000000003" stroke="#1e222d" stroke-width="0.9"/>
<ellipse cx="125.3" cy="286.3" rx="1.75" ry="2.6" fill="none" stroke="#1e222d" stroke-width="1"/><line x1="123.39999999999999" y1="289.2" x2="127.2" y2="283.40000000000003" stroke="#1e222d" stroke-width="0.9"/>
<text x="7.7" y="405.2" font-size="8.4" fill="#2a2e39" textLength="60" lengthAdjust="spacingAndGlyphs">MACD 12 26 close</text>
<text x="73.8" y="405.2" font-size="8.4" fill="#f0626c" textLength="18.5" lengthAdjust="spacingAndGlyphs">−0.47</text>
<text x="96" y="405.2" font-size="8.4" fill="#4c76f0" textLength="18.6" lengthAdjust="spacingAndGlyphs">−1.51</text>
<text x="119" y="405.2" font-size="8.4" fill="#f07a2a" textLength="19.5" lengthAdjust="spacingAndGlyphs">−1.04</text>
<rect x="926.5" y="4.8" width="44" height="29" rx="3" fill="#fff" stroke="#eceef2" stroke-width="1"/>
<text x="928" y="15.3" font-size="7.2" fill="#3a3d48" textLength="13" lengthAdjust="spacingAndGlyphs">USD</text>
<text x="928" y="29.4" font-size="7.2" fill="#3a3d48" textLength="11.5" lengthAdjust="spacingAndGlyphs">BLL</text>
<path d="M965.3 12.2 l1.6 1.6 l1.6 -1.6" fill="none" stroke="#2a2e39" stroke-width="1"/><path d="M965.3 26.2 l1.6 1.6 l1.6 -1.6" fill="none" stroke="#2a2e39" stroke-width="1"/>
<rect x="7.5" y="436.6" width="22" height="15" rx="2" fill="#ffffff"/>
<path d="M9.5 438 H17.1 V446.5 H13 V440.8 H9.5 Z" fill="#131722"/><circle cx="19.6" cy="439.4" r="1.6" fill="#131722"/><path d="M23.7 438 H27.4 L24.7 446.5 H20.3 Z" fill="#131722"/>
<rect x="0" y="0" width="975" height="2" fill="#e6e6e6"/><rect x="0" y="0" width="1.8" height="475" fill="#e6e6e6"/><rect x="973" y="0" width="2" height="475" fill="#e8e8e8"/>
</svg></body></html>
